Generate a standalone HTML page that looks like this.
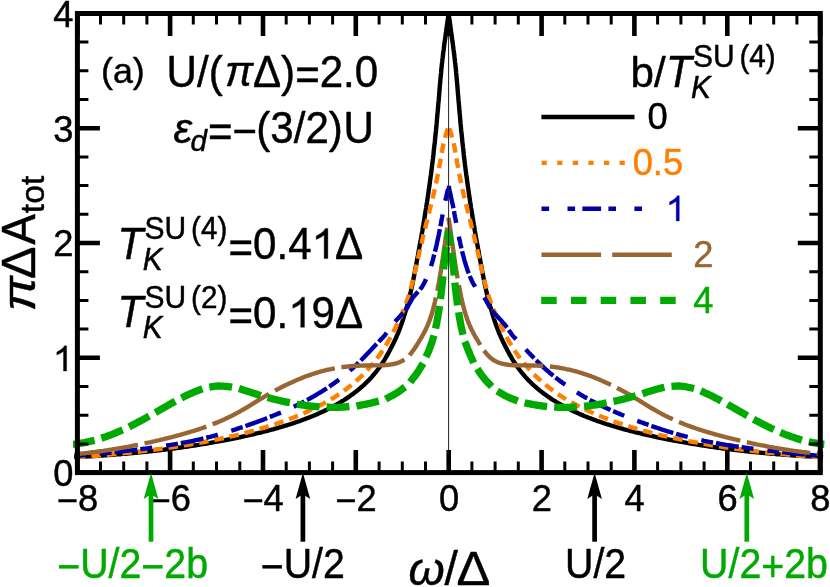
<!DOCTYPE html>
<html><head><meta charset="utf-8"><title>chart</title>
<style>
html,body{margin:0;padding:0;background:#fff;}
svg{display:block;will-change:transform;font-family:"Liberation Sans",sans-serif;}
text{font-family:"Liberation Sans",sans-serif;stroke:#000;stroke-width:0.45px;stroke-linejoin:round;}
.i{font-style:italic;}
</style></head><body>
<svg width="830" height="587" viewBox="0 0 830 587">
<rect width="830" height="587" fill="#fff"/>
<defs><clipPath id="cp"><rect x="73" y="11" width="751.6" height="466"/></clipPath></defs>
<g fill="none" clip-path="url(#cp)" stroke-linejoin="bevel" stroke-linecap="square">
<path d="M76.3 457.0 L77.9 456.9 L79.5 456.9 L81.1 456.8 L82.7 456.7 L84.3 456.6 L85.8 456.5 L87.4 456.4 L89.0 456.3 L90.6 456.2 L92.1 456.2 L93.7 456.1 L95.3 456.0 L96.8 455.9 L98.4 455.8 L99.9 455.7 L101.5 455.6 L103.0 455.5 L104.6 455.3 L106.1 455.2 L107.7 455.1 L109.2 455.0 L110.7 454.9 L112.3 454.8 L113.8 454.7 L115.3 454.6 L116.8 454.4 L118.4 454.3 L119.9 454.2 L121.4 454.1 L122.9 453.9 L124.4 453.8 L125.9 453.7 L127.4 453.5 L128.9 453.4 L130.4 453.3 L131.9 453.1 L133.4 453.0 L134.9 452.9 L136.3 452.7 L137.8 452.6 L139.3 452.4 L140.8 452.3 L142.2 452.1 L143.7 452.0 L145.2 451.8 L146.6 451.7 L148.1 451.5 L149.5 451.4 L151.0 451.2 L152.4 451.1 L153.9 450.9 L155.3 450.7 L156.7 450.6 L158.2 450.4 L159.6 450.2 L161.0 450.1 L162.5 449.9 L163.9 449.7 L165.3 449.5 L166.7 449.4 L168.1 449.2 L169.5 449.0 L170.9 448.8 L172.3 448.6 L173.7 448.5 L175.1 448.3 L176.5 448.1 L177.9 447.9 L179.3 447.7 L180.7 447.5 L182.1 447.3 L183.4 447.1 L184.8 446.9 L186.2 446.7 L187.6 446.5 L188.9 446.3 L190.3 446.1 L191.6 445.9 L193.0 445.7 L194.3 445.5 L195.7 445.3 L197.0 445.1 L198.4 444.9 L199.7 444.6 L201.1 444.4 L202.4 444.2 L203.7 444.0 L205.0 443.8 L206.4 443.5 L207.7 443.3 L209.0 443.1 L210.3 442.9 L211.6 442.6 L212.9 442.4 L214.2 442.2 L215.5 441.9 L216.8 441.7 L218.1 441.5 L219.4 441.2 L220.7 441.0 L222.0 440.8 L223.3 440.5 L224.6 440.3 L225.8 440.0 L227.1 439.8 L228.4 439.5 L229.6 439.3 L230.9 439.0 L232.1 438.8 L233.4 438.5 L234.7 438.3 L235.9 438.0 L237.2 437.8 L238.4 437.5 L239.6 437.3 L240.9 437.0 L242.1 436.7 L243.3 436.5 L244.6 436.2 L245.8 435.9 L247.0 435.7 L248.2 435.4 L249.4 435.1 L250.6 434.8 L251.8 434.6 L253.0 434.3 L254.2 434.0 L255.4 433.7 L256.6 433.4 L257.8 433.2 L259.0 432.9 L260.2 432.6 L261.4 432.3 L262.6 432.0 L263.7 431.7 L264.9 431.4 L266.1 431.1 L267.2 430.8 L268.4 430.5 L269.5 430.2 L270.7 429.9 L271.8 429.6 L273.0 429.3 L274.1 429.0 L275.3 428.7 L276.4 428.3 L277.5 428.0 L278.7 427.7 L279.8 427.4 L280.9 427.0 L282.0 426.7 L283.2 426.4 L284.3 426.0 L285.4 425.7 L286.5 425.4 L287.6 425.0 L288.7 424.7 L289.8 424.3 L290.9 424.0 L292.0 423.6 L293.1 423.3 L294.2 422.9 L295.2 422.5 L296.3 422.2 L297.4 421.8 L298.5 421.4 L299.5 421.1 L300.6 420.7 L301.6 420.3 L302.7 419.9 L303.7 419.5 L304.8 419.1 L305.8 418.7 L306.9 418.4 L307.9 417.9 L309.0 417.5 L310.0 417.1 L311.0 416.7 L312.1 416.3 L313.1 415.9 L314.1 415.5 L315.1 415.0 L316.1 414.6 L317.1 414.2 L318.1 413.7 L319.1 413.3 L320.1 412.8 L321.1 412.4 L322.1 411.9 L323.1 411.5 L324.1 411.0 L325.1 410.5 L326.1 410.1 L327.0 409.6 L328.0 409.1 L329.0 408.6 L329.9 408.1 L330.9 407.6 L331.8 407.1 L332.8 406.6 L333.8 406.1 L334.7 405.6 L335.6 405.0 L336.6 404.5 L337.5 404.0 L338.4 403.4 L339.4 402.9 L340.3 402.3 L341.2 401.8 L342.1 401.2 L343.1 400.6 L344.0 400.1 L344.9 399.5 L345.8 398.9 L346.7 398.3 L347.6 397.7 L348.5 397.1 L349.4 396.5 L350.3 395.8 L351.1 395.2 L352.0 394.6 L352.9 393.9 L353.8 393.3 L354.6 392.6 L355.5 392.0 L356.4 391.3 L357.2 390.6 L358.1 389.9 L358.9 389.2 L359.8 388.5 L360.6 387.8 L361.5 387.1 L362.3 386.3 L363.1 385.6 L364.0 384.8 L364.8 384.1 L365.6 383.3 L366.4 382.5 L367.2 381.7 L368.1 380.9 L368.9 380.0 L369.7 379.2 L370.5 378.3 L371.3 377.5 L372.1 376.6 L372.8 375.7 L373.6 374.8 L374.4 373.8 L375.2 372.9 L376.0 371.9 L376.7 371.0 L377.5 370.0 L378.3 369.0 L379.0 367.9 L379.8 366.9 L380.5 365.8 L381.3 364.7 L382.0 363.6 L382.8 362.5 L383.5 361.3 L384.3 360.2 L385.0 359.0 L385.7 357.7 L386.4 356.5 L387.2 355.2 L387.9 353.9 L388.6 352.6 L389.3 351.3 L390.0 350.0 L390.7 348.6 L391.4 347.2 L392.1 345.9 L392.8 344.5 L393.5 343.1 L394.2 341.7 L394.8 340.3 L395.5 338.9 L396.2 337.4 L396.8 335.9 L397.5 334.4 L398.2 332.8 L398.8 331.2 L399.5 329.5 L400.1 327.8 L400.8 326.0 L401.4 324.2 L402.0 322.4 L402.7 320.5 L403.3 318.6 L403.9 316.6 L404.6 314.6 L405.2 312.6 L405.8 310.5 L406.4 308.4 L407.0 306.3 L407.6 304.1 L408.2 301.9 L408.8 299.7 L409.4 297.4 L410.0 295.0 L410.6 292.6 L411.1 290.1 L411.7 287.5 L412.3 284.8 L412.8 282.1 L413.4 279.2 L414.0 276.3 L414.5 273.4 L415.1 270.6 L415.6 267.7 L416.2 264.8 L416.7 261.9 L417.2 259.1 L417.8 256.2 L418.3 253.3 L418.8 250.5 L419.3 247.6 L419.8 244.8 L420.4 242.0 L420.9 239.1 L421.4 236.3 L421.9 233.4 L422.4 230.6 L422.8 227.7 L423.3 224.9 L423.8 222.0 L424.3 219.1 L424.8 216.2 L425.2 213.3 L425.7 210.4 L426.2 207.5 L426.6 204.6 L427.1 201.6 L427.5 198.7 L428.0 195.7 L428.4 192.7 L428.8 189.7 L429.3 186.7 L429.7 183.6 L430.1 180.5 L430.5 177.4 L431.0 174.3 L431.4 171.1 L431.8 167.9 L432.2 164.7 L432.6 161.4 L433.0 158.2 L433.4 154.8 L433.7 151.5 L434.1 148.1 L434.5 144.6 L434.9 141.2 L435.2 137.7 L435.6 134.1 L436.0 130.5 L436.3 126.9 L436.7 123.2 L437.0 119.4 L437.3 115.6 L437.7 111.8 L438.0 108.0 L438.3 104.1 L438.7 100.2 L439.0 96.4 L439.3 92.7 L439.6 89.0 L439.9 85.4 L440.2 82.0 L440.5 78.6 L440.8 75.5 L441.1 72.5 L441.3 69.6 L441.6 66.9 L441.9 64.3 L442.2 61.8 L442.4 59.5 L442.7 57.3 L442.9 55.2 L443.2 53.2 L443.4 51.3 L443.7 49.5 L443.9 47.7 L444.1 46.0 L444.3 44.4 L444.5 42.8 L444.8 41.3 L445.0 39.8 L445.2 38.4 L445.4 37.0 L445.6 35.6 L445.7 34.3 L445.9 32.9 L446.1 31.7 L446.3 30.4 L446.4 29.2 L446.6 28.1 L446.7 27.0 L446.9 25.9 L447.0 24.8 L447.2 23.8 L447.3 22.9 L447.4 22.0 L447.6 21.1 L447.7 20.3 L447.8 19.5 L447.9 18.7 L448.0 18.0 L448.1 17.4 L448.2 16.8 L448.2 16.2 L448.3 15.7 L448.4 15.2 L448.4 14.8 L448.5 14.4 L448.5 14.1 L448.5 13.9 L448.6 13.7 L448.6 13.6 L448.6 13.5 L448.6 13.6 L448.6 13.7 L448.7 13.9 L448.7 14.1 L448.7 14.4 L448.8 14.8 L448.8 15.2 L448.9 15.7 L449.0 16.2 L449.0 16.8 L449.1 17.4 L449.2 18.0 L449.3 18.7 L449.4 19.5 L449.5 20.3 L449.6 21.1 L449.8 22.0 L449.9 22.9 L450.0 23.8 L450.2 24.8 L450.3 25.9 L450.5 27.0 L450.6 28.1 L450.8 29.2 L450.9 30.4 L451.1 31.7 L451.3 32.9 L451.5 34.3 L451.6 35.6 L451.8 37.0 L452.0 38.4 L452.2 39.8 L452.4 41.3 L452.7 42.8 L452.9 44.4 L453.1 46.0 L453.3 47.7 L453.5 49.5 L453.8 51.3 L454.0 53.2 L454.3 55.2 L454.5 57.3 L454.8 59.5 L455.0 61.8 L455.3 64.3 L455.6 66.9 L455.9 69.6 L456.1 72.5 L456.4 75.5 L456.7 78.6 L457.0 82.0 L457.3 85.4 L457.6 89.0 L457.9 92.7 L458.2 96.4 L458.5 100.2 L458.9 104.1 L459.2 108.0 L459.5 111.8 L459.9 115.6 L460.2 119.4 L460.5 123.2 L460.9 126.9 L461.2 130.5 L461.6 134.1 L462.0 137.7 L462.3 141.2 L462.7 144.6 L463.1 148.1 L463.5 151.5 L463.8 154.8 L464.2 158.2 L464.6 161.4 L465.0 164.7 L465.4 167.9 L465.8 171.1 L466.2 174.3 L466.7 177.4 L467.1 180.5 L467.5 183.6 L467.9 186.7 L468.4 189.7 L468.8 192.7 L469.2 195.7 L469.7 198.7 L470.1 201.6 L470.6 204.6 L471.0 207.5 L471.5 210.4 L472.0 213.3 L472.4 216.2 L472.9 219.1 L473.4 222.0 L473.9 224.9 L474.4 227.7 L474.8 230.6 L475.3 233.4 L475.8 236.3 L476.3 239.1 L476.8 242.0 L477.4 244.8 L477.9 247.6 L478.4 250.5 L478.9 253.3 L479.4 256.2 L480.0 259.1 L480.5 261.9 L481.0 264.8 L481.6 267.7 L482.1 270.6 L482.7 273.4 L483.2 276.3 L483.8 279.2 L484.4 282.1 L484.9 284.8 L485.5 287.5 L486.1 290.1 L486.6 292.6 L487.2 295.0 L487.8 297.4 L488.4 299.7 L489.0 301.9 L489.6 304.1 L490.2 306.3 L490.8 308.4 L491.4 310.5 L492.0 312.6 L492.6 314.6 L493.3 316.6 L493.9 318.6 L494.5 320.5 L495.2 322.4 L495.8 324.2 L496.4 326.0 L497.1 327.8 L497.7 329.5 L498.4 331.2 L499.0 332.8 L499.7 334.4 L500.4 335.9 L501.0 337.4 L501.7 338.9 L502.4 340.3 L503.0 341.7 L503.7 343.1 L504.4 344.5 L505.1 345.9 L505.8 347.2 L506.5 348.6 L507.2 350.0 L507.9 351.3 L508.6 352.6 L509.3 353.9 L510.0 355.2 L510.8 356.5 L511.5 357.7 L512.2 359.0 L512.9 360.2 L513.7 361.3 L514.4 362.5 L515.2 363.6 L515.9 364.7 L516.7 365.8 L517.4 366.9 L518.2 367.9 L518.9 369.0 L519.7 370.0 L520.5 371.0 L521.2 371.9 L522.0 372.9 L522.8 373.8 L523.6 374.8 L524.4 375.7 L525.1 376.6 L525.9 377.5 L526.7 378.3 L527.5 379.2 L528.3 380.0 L529.1 380.9 L530.0 381.7 L530.8 382.5 L531.6 383.3 L532.4 384.1 L533.2 384.8 L534.1 385.6 L534.9 386.3 L535.7 387.1 L536.6 387.8 L537.4 388.5 L538.3 389.2 L539.1 389.9 L540.0 390.6 L540.8 391.3 L541.7 392.0 L542.6 392.6 L543.4 393.3 L544.3 393.9 L545.2 394.6 L546.1 395.2 L546.9 395.8 L547.8 396.5 L548.7 397.1 L549.6 397.7 L550.5 398.3 L551.4 398.9 L552.3 399.5 L553.2 400.1 L554.1 400.6 L555.1 401.2 L556.0 401.8 L556.9 402.3 L557.8 402.9 L558.8 403.4 L559.7 404.0 L560.6 404.5 L561.6 405.0 L562.5 405.6 L563.4 406.1 L564.4 406.6 L565.4 407.1 L566.3 407.6 L567.3 408.1 L568.2 408.6 L569.2 409.1 L570.2 409.6 L571.1 410.1 L572.1 410.5 L573.1 411.0 L574.1 411.5 L575.1 411.9 L576.1 412.4 L577.1 412.8 L578.1 413.3 L579.1 413.7 L580.1 414.2 L581.1 414.6 L582.1 415.0 L583.1 415.5 L584.1 415.9 L585.1 416.3 L586.2 416.7 L587.2 417.1 L588.2 417.5 L589.3 417.9 L590.3 418.4 L591.4 418.7 L592.4 419.1 L593.5 419.5 L594.5 419.9 L595.6 420.3 L596.6 420.7 L597.7 421.1 L598.7 421.4 L599.8 421.8 L600.9 422.2 L602.0 422.5 L603.0 422.9 L604.1 423.3 L605.2 423.6 L606.3 424.0 L607.4 424.3 L608.5 424.7 L609.6 425.0 L610.7 425.4 L611.8 425.7 L612.9 426.0 L614.0 426.4 L615.2 426.7 L616.3 427.0 L617.4 427.4 L618.5 427.7 L619.7 428.0 L620.8 428.3 L621.9 428.7 L623.1 429.0 L624.2 429.3 L625.4 429.6 L626.5 429.9 L627.7 430.2 L628.8 430.5 L630.0 430.8 L631.1 431.1 L632.3 431.4 L633.5 431.7 L634.6 432.0 L635.8 432.3 L637.0 432.6 L638.2 432.9 L639.4 433.2 L640.6 433.4 L641.8 433.7 L643.0 434.0 L644.2 434.3 L645.4 434.6 L646.6 434.8 L647.8 435.1 L649.0 435.4 L650.2 435.7 L651.4 435.9 L652.6 436.2 L653.9 436.5 L655.1 436.7 L656.3 437.0 L657.6 437.3 L658.8 437.5 L660.0 437.8 L661.3 438.0 L662.5 438.3 L663.8 438.5 L665.1 438.8 L666.3 439.0 L667.6 439.3 L668.8 439.5 L670.1 439.8 L671.4 440.0 L672.6 440.3 L673.9 440.5 L675.2 440.8 L676.5 441.0 L677.8 441.2 L679.1 441.5 L680.4 441.7 L681.7 441.9 L683.0 442.2 L684.3 442.4 L685.6 442.6 L686.9 442.9 L688.2 443.1 L689.5 443.3 L690.8 443.5 L692.2 443.8 L693.5 444.0 L694.8 444.2 L696.1 444.4 L697.5 444.6 L698.8 444.9 L700.2 445.1 L701.5 445.3 L702.9 445.5 L704.2 445.7 L705.6 445.9 L706.9 446.1 L708.3 446.3 L709.6 446.5 L711.0 446.7 L712.4 446.9 L713.8 447.1 L715.1 447.3 L716.5 447.5 L717.9 447.7 L719.3 447.9 L720.7 448.1 L722.1 448.3 L723.5 448.5 L724.9 448.6 L726.3 448.8 L727.7 449.0 L729.1 449.2 L730.5 449.4 L731.9 449.5 L733.3 449.7 L734.7 449.9 L736.2 450.1 L737.6 450.2 L739.0 450.4 L740.5 450.6 L741.9 450.7 L743.3 450.9 L744.8 451.1 L746.2 451.2 L747.7 451.4 L749.1 451.5 L750.6 451.7 L752.0 451.8 L753.5 452.0 L755.0 452.1 L756.4 452.3 L757.9 452.4 L759.4 452.6 L760.9 452.7 L762.3 452.9 L763.8 453.0 L765.3 453.1 L766.8 453.3 L768.3 453.4 L769.8 453.5 L771.3 453.7 L772.8 453.8 L774.3 453.9 L775.8 454.1 L777.3 454.2 L778.8 454.3 L780.4 454.4 L781.9 454.6 L783.4 454.7 L784.9 454.8 L786.5 454.9 L788.0 455.0 L789.5 455.1 L791.1 455.2 L792.6 455.3 L794.2 455.5 L795.7 455.6 L797.3 455.7 L798.8 455.8 L800.4 455.9 L801.9 456.0 L803.5 456.1 L805.1 456.2 L806.6 456.2 L808.2 456.3 L809.8 456.4 L811.4 456.5 L812.9 456.6 L814.5 456.7 L816.1 456.8 L817.7 456.9 L819.3 456.9 L820.9 457.0" stroke="#000" stroke-width="4.4"/>
<path d="M76.3 457.3 L77.9 457.2 L79.5 457.1 L81.1 456.9 L82.7 456.8 L84.3 456.7 L85.8 456.6 L87.4 456.5 L89.0 456.3 L90.6 456.2 L92.1 456.1 L93.7 455.9 L95.3 455.8 L96.8 455.7 L98.4 455.5 L99.9 455.4 L101.5 455.3 L103.0 455.1 L104.6 455.0 L106.1 454.9 L107.7 454.7 L109.2 454.6 L110.7 454.4 L112.3 454.3 L113.8 454.1 L115.3 454.0 L116.8 453.9 L118.4 453.7 L119.9 453.6 L121.4 453.4 L122.9 453.2 L124.4 453.1 L125.9 452.9 L127.4 452.8 L128.9 452.6 L130.4 452.5 L131.9 452.3 L133.4 452.1 L134.9 452.0 L136.3 451.8 L137.8 451.6 L139.3 451.5 L140.8 451.3 L142.2 451.1 L143.7 451.0 L145.2 450.8 L146.6 450.6 L148.1 450.4 L149.5 450.2 L151.0 450.1 L152.4 449.9 L153.9 449.7 L155.3 449.5 L156.7 449.3 L158.2 449.1 L159.6 449.0 L161.0 448.8 L162.5 448.6 L163.9 448.4 L165.3 448.2 L166.7 448.0 L168.1 447.8 L169.5 447.6 L170.9 447.4 L172.3 447.2 L173.7 447.0 L175.1 446.8 L176.5 446.6 L177.9 446.3 L179.3 446.1 L180.7 445.9 L182.1 445.7 L183.4 445.5 L184.8 445.3 L186.2 445.1 L187.6 444.8 L188.9 444.6 L190.3 444.4 L191.6 444.2 L193.0 443.9 L194.3 443.7 L195.7 443.5 L197.0 443.2 L198.4 443.0 L199.7 442.7 L201.1 442.5 L202.4 442.3 L203.7 442.0 L205.0 441.8 L206.4 441.5 L207.7 441.3 L209.0 441.0 L210.3 440.8 L211.6 440.5 L212.9 440.3 L214.2 440.0 L215.5 439.7 L216.8 439.5 L218.1 439.2 L219.4 438.9 L220.7 438.7 L222.0 438.4 L223.3 438.1 L224.6 437.8 L225.8 437.6 L227.1 437.3 L228.4 437.0 L229.6 436.7 L230.9 436.4 L232.1 436.1 L233.4 435.9 L234.7 435.6 L235.9 435.3 L237.2 435.0 L238.4 434.7 L239.6 434.4 L240.9 434.1 L242.1 433.8 L243.3 433.4 L244.6 433.1 L245.8 432.8 L247.0 432.5 L248.2 432.2 L249.4 431.9 L250.6 431.5 L251.8 431.2 L253.0 430.9 L254.2 430.6 L255.4 430.2 L256.6 429.9 L257.8 429.5 L259.0 429.2 L260.2 428.9 L261.4 428.5 L262.6 428.2 L263.7 427.8 L264.9 427.5 L266.1 427.1 L267.2 426.7 L268.4 426.4 L269.5 426.0 L270.7 425.6 L271.8 425.3 L273.0 424.9 L274.1 424.5 L275.3 424.2 L276.4 423.8 L277.5 423.4 L278.7 423.0 L279.8 422.6 L280.9 422.2 L282.0 421.8 L283.2 421.4 L284.3 421.0 L285.4 420.6 L286.5 420.2 L287.6 419.8 L288.7 419.4 L289.8 419.0 L290.9 418.5 L292.0 418.1 L293.1 417.7 L294.2 417.3 L295.2 416.8 L296.3 416.4 L297.4 415.9 L298.5 415.5 L299.5 415.1 L300.6 414.6 L301.6 414.1 L302.7 413.7 L303.7 413.2 L304.8 412.8 L305.8 412.3 L306.9 411.8 L307.9 411.4 L309.0 410.9 L310.0 410.4 L311.0 409.9 L312.1 409.4 L313.1 408.9 L314.1 408.4 L315.1 407.9 L316.1 407.4 L317.1 406.9 L318.1 406.4 L319.1 405.9 L320.1 405.4 L321.1 404.8 L322.1 404.3 L323.1 403.8 L324.1 403.2 L325.1 402.7 L326.1 402.1 L327.0 401.6 L328.0 401.0 L329.0 400.5 L329.9 399.9 L330.9 399.3 L331.8 398.8 L332.8 398.2 L333.8 397.6 L334.7 397.0 L335.6 396.4 L336.6 395.8 L337.5 395.2 L338.4 394.5 L339.4 393.9 L340.3 393.3 L341.2 392.7 L342.1 392.0 L343.1 391.4 L344.0 390.7 L344.9 390.1 L345.8 389.4 L346.7 388.7 L347.6 388.0 L348.5 387.3 L349.4 386.7 L350.3 385.9 L351.1 385.2 L352.0 384.5 L352.9 383.8 L353.8 383.1 L354.6 382.3 L355.5 381.6 L356.4 380.8 L357.2 380.0 L358.1 379.3 L358.9 378.5 L359.8 377.7 L360.6 376.9 L361.5 376.1 L362.3 375.3 L363.1 374.4 L364.0 373.6 L364.8 372.8 L365.6 371.9 L366.4 371.0 L367.2 370.2 L368.1 369.3 L368.9 368.4 L369.7 367.5 L370.5 366.5 L371.3 365.6 L372.1 364.7 L372.8 363.7 L373.6 362.8 L374.4 361.8 L375.2 360.8 L376.0 359.8 L376.7 358.8 L377.5 357.8 L378.3 356.7 L379.0 355.7 L379.8 354.6 L380.5 353.5 L381.3 352.4 L382.0 351.3 L382.8 350.2 L383.5 349.1 L384.3 347.9 L385.0 346.7 L385.7 345.6 L386.4 344.4 L387.2 343.1 L387.9 341.9 L388.6 340.7 L389.3 339.4 L390.0 338.1 L390.7 336.8 L391.4 335.5 L392.1 334.2 L392.8 332.9 L393.5 331.5 L394.2 330.2 L394.8 328.8 L395.5 327.5 L396.2 326.1 L396.8 324.7 L397.5 323.4 L398.2 322.0 L398.8 320.6 L399.5 319.2 L400.1 317.7 L400.8 316.3 L401.4 314.8 L402.0 313.4 L402.7 311.9 L403.3 310.3 L403.9 308.8 L404.6 307.2 L405.2 305.6 L405.8 303.9 L406.4 302.3 L407.0 300.5 L407.6 298.8 L408.2 297.0 L408.8 295.1 L409.4 293.2 L410.0 291.3 L410.6 289.2 L411.1 287.2 L411.7 285.0 L412.3 282.9 L412.8 280.7 L413.4 278.4 L414.0 276.1 L414.5 273.8 L415.1 271.4 L415.6 269.1 L416.2 266.7 L416.7 264.3 L417.2 262.0 L417.8 259.6 L418.3 257.3 L418.8 255.0 L419.3 252.7 L419.8 250.5 L420.4 248.3 L420.9 246.1 L421.4 244.0 L421.9 241.9 L422.4 239.8 L422.8 237.7 L423.3 235.7 L423.8 233.7 L424.3 231.8 L424.8 229.8 L425.2 227.9 L425.7 226.0 L426.2 224.2 L426.6 222.4 L427.1 220.5 L427.5 218.8 L428.0 217.0 L428.4 215.2 L428.8 213.5 L429.3 211.8 L429.7 210.1 L430.1 208.4 L430.5 206.7 L431.0 205.1 L431.4 203.4 L431.8 201.8 L432.2 200.1 L432.6 198.5 L433.0 196.8 L433.4 195.2 L433.7 193.6 L434.1 191.9 L434.5 190.3 L434.9 188.7 L435.2 187.0 L435.6 185.3 L436.0 183.7 L436.3 182.0 L436.7 180.3 L437.0 178.6 L437.3 176.9 L437.7 175.2 L438.0 173.5 L438.3 171.8 L438.7 170.0 L439.0 168.3 L439.3 166.6 L439.6 164.9 L439.9 163.3 L440.2 161.6 L440.5 159.9 L440.8 158.3 L441.1 156.7 L441.3 155.1 L441.6 153.5 L441.9 152.0 L442.2 150.4 L442.4 149.0 L442.7 147.5 L442.9 146.1 L443.2 144.6 L443.4 143.3 L443.7 142.1 L443.9 141.2 L444.1 140.3 L444.3 139.5 L444.5 138.8 L444.8 138.1 L445.0 137.5 L445.2 136.9 L445.4 136.3 L445.6 135.7 L445.7 135.2 L445.9 134.6 L446.1 134.0 L446.3 133.5 L446.4 132.9 L446.6 132.4 L446.7 131.9 L446.9 131.4 L447.0 130.9 L447.2 130.4 L447.3 130.0 L447.4 129.6 L447.6 129.2 L447.7 128.8 L447.8 128.4 L447.9 128.1 L448.0 127.8 L448.1 127.5 L448.2 127.2 L448.2 126.9 L448.3 126.7 L448.4 126.5 L448.4 126.3 L448.5 126.1 L448.5 126.0 L448.5 125.9 L448.6 125.8 L448.6 125.7 L448.6 125.7 L448.6 125.7 L448.6 125.8 L448.7 125.9 L448.7 126.0 L448.7 126.1 L448.8 126.3 L448.8 126.5 L448.9 126.7 L449.0 126.9 L449.0 127.2 L449.1 127.5 L449.2 127.8 L449.3 128.1 L449.4 128.4 L449.5 128.8 L449.6 129.2 L449.8 129.6 L449.9 130.0 L450.0 130.4 L450.2 130.9 L450.3 131.4 L450.5 131.9 L450.6 132.4 L450.8 132.9 L450.9 133.5 L451.1 134.0 L451.3 134.6 L451.5 135.2 L451.6 135.7 L451.8 136.3 L452.0 136.9 L452.2 137.5 L452.4 138.1 L452.7 138.8 L452.9 139.5 L453.1 140.3 L453.3 141.2 L453.5 142.1 L453.8 143.3 L454.0 144.6 L454.3 146.1 L454.5 147.5 L454.8 149.0 L455.0 150.4 L455.3 152.0 L455.6 153.5 L455.9 155.1 L456.1 156.7 L456.4 158.3 L456.7 159.9 L457.0 161.6 L457.3 163.3 L457.6 164.9 L457.9 166.6 L458.2 168.3 L458.5 170.0 L458.9 171.8 L459.2 173.5 L459.5 175.2 L459.9 176.9 L460.2 178.6 L460.5 180.3 L460.9 182.0 L461.2 183.7 L461.6 185.3 L462.0 187.0 L462.3 188.7 L462.7 190.3 L463.1 191.9 L463.5 193.6 L463.8 195.2 L464.2 196.8 L464.6 198.5 L465.0 200.1 L465.4 201.8 L465.8 203.4 L466.2 205.1 L466.7 206.7 L467.1 208.4 L467.5 210.1 L467.9 211.8 L468.4 213.5 L468.8 215.2 L469.2 217.0 L469.7 218.8 L470.1 220.5 L470.6 222.4 L471.0 224.2 L471.5 226.0 L472.0 227.9 L472.4 229.8 L472.9 231.8 L473.4 233.7 L473.9 235.7 L474.4 237.7 L474.8 239.8 L475.3 241.9 L475.8 244.0 L476.3 246.1 L476.8 248.3 L477.4 250.5 L477.9 252.7 L478.4 255.0 L478.9 257.3 L479.4 259.6 L480.0 262.0 L480.5 264.3 L481.0 266.7 L481.6 269.1 L482.1 271.4 L482.7 273.8 L483.2 276.1 L483.8 278.4 L484.4 280.7 L484.9 282.9 L485.5 285.0 L486.1 287.2 L486.6 289.2 L487.2 291.3 L487.8 293.2 L488.4 295.1 L489.0 297.0 L489.6 298.8 L490.2 300.5 L490.8 302.3 L491.4 303.9 L492.0 305.6 L492.6 307.2 L493.3 308.8 L493.9 310.3 L494.5 311.9 L495.2 313.4 L495.8 314.8 L496.4 316.3 L497.1 317.7 L497.7 319.2 L498.4 320.6 L499.0 322.0 L499.7 323.4 L500.4 324.7 L501.0 326.1 L501.7 327.5 L502.4 328.8 L503.0 330.2 L503.7 331.5 L504.4 332.9 L505.1 334.2 L505.8 335.5 L506.5 336.8 L507.2 338.1 L507.9 339.4 L508.6 340.7 L509.3 341.9 L510.0 343.1 L510.8 344.4 L511.5 345.6 L512.2 346.7 L512.9 347.9 L513.7 349.1 L514.4 350.2 L515.2 351.3 L515.9 352.4 L516.7 353.5 L517.4 354.6 L518.2 355.7 L518.9 356.7 L519.7 357.8 L520.5 358.8 L521.2 359.8 L522.0 360.8 L522.8 361.8 L523.6 362.8 L524.4 363.7 L525.1 364.7 L525.9 365.6 L526.7 366.5 L527.5 367.5 L528.3 368.4 L529.1 369.3 L530.0 370.2 L530.8 371.0 L531.6 371.9 L532.4 372.8 L533.2 373.6 L534.1 374.4 L534.9 375.3 L535.7 376.1 L536.6 376.9 L537.4 377.7 L538.3 378.5 L539.1 379.3 L540.0 380.0 L540.8 380.8 L541.7 381.6 L542.6 382.3 L543.4 383.1 L544.3 383.8 L545.2 384.5 L546.1 385.2 L546.9 385.9 L547.8 386.7 L548.7 387.3 L549.6 388.0 L550.5 388.7 L551.4 389.4 L552.3 390.1 L553.2 390.7 L554.1 391.4 L555.1 392.0 L556.0 392.7 L556.9 393.3 L557.8 393.9 L558.8 394.5 L559.7 395.2 L560.6 395.8 L561.6 396.4 L562.5 397.0 L563.4 397.6 L564.4 398.2 L565.4 398.8 L566.3 399.3 L567.3 399.9 L568.2 400.5 L569.2 401.0 L570.2 401.6 L571.1 402.1 L572.1 402.7 L573.1 403.2 L574.1 403.8 L575.1 404.3 L576.1 404.8 L577.1 405.4 L578.1 405.9 L579.1 406.4 L580.1 406.9 L581.1 407.4 L582.1 407.9 L583.1 408.4 L584.1 408.9 L585.1 409.4 L586.2 409.9 L587.2 410.4 L588.2 410.9 L589.3 411.4 L590.3 411.8 L591.4 412.3 L592.4 412.8 L593.5 413.2 L594.5 413.7 L595.6 414.1 L596.6 414.6 L597.7 415.1 L598.7 415.5 L599.8 415.9 L600.9 416.4 L602.0 416.8 L603.0 417.3 L604.1 417.7 L605.2 418.1 L606.3 418.5 L607.4 419.0 L608.5 419.4 L609.6 419.8 L610.7 420.2 L611.8 420.6 L612.9 421.0 L614.0 421.4 L615.2 421.8 L616.3 422.2 L617.4 422.6 L618.5 423.0 L619.7 423.4 L620.8 423.8 L621.9 424.2 L623.1 424.5 L624.2 424.9 L625.4 425.3 L626.5 425.6 L627.7 426.0 L628.8 426.4 L630.0 426.7 L631.1 427.1 L632.3 427.5 L633.5 427.8 L634.6 428.2 L635.8 428.5 L637.0 428.9 L638.2 429.2 L639.4 429.5 L640.6 429.9 L641.8 430.2 L643.0 430.6 L644.2 430.9 L645.4 431.2 L646.6 431.5 L647.8 431.9 L649.0 432.2 L650.2 432.5 L651.4 432.8 L652.6 433.1 L653.9 433.4 L655.1 433.8 L656.3 434.1 L657.6 434.4 L658.8 434.7 L660.0 435.0 L661.3 435.3 L662.5 435.6 L663.8 435.9 L665.1 436.1 L666.3 436.4 L667.6 436.7 L668.8 437.0 L670.1 437.3 L671.4 437.6 L672.6 437.8 L673.9 438.1 L675.2 438.4 L676.5 438.7 L677.8 438.9 L679.1 439.2 L680.4 439.5 L681.7 439.7 L683.0 440.0 L684.3 440.3 L685.6 440.5 L686.9 440.8 L688.2 441.0 L689.5 441.3 L690.8 441.5 L692.2 441.8 L693.5 442.0 L694.8 442.3 L696.1 442.5 L697.5 442.7 L698.8 443.0 L700.2 443.2 L701.5 443.5 L702.9 443.7 L704.2 443.9 L705.6 444.2 L706.9 444.4 L708.3 444.6 L709.6 444.8 L711.0 445.1 L712.4 445.3 L713.8 445.5 L715.1 445.7 L716.5 445.9 L717.9 446.1 L719.3 446.3 L720.7 446.6 L722.1 446.8 L723.5 447.0 L724.9 447.2 L726.3 447.4 L727.7 447.6 L729.1 447.8 L730.5 448.0 L731.9 448.2 L733.3 448.4 L734.7 448.6 L736.2 448.8 L737.6 449.0 L739.0 449.1 L740.5 449.3 L741.9 449.5 L743.3 449.7 L744.8 449.9 L746.2 450.1 L747.7 450.2 L749.1 450.4 L750.6 450.6 L752.0 450.8 L753.5 451.0 L755.0 451.1 L756.4 451.3 L757.9 451.5 L759.4 451.6 L760.9 451.8 L762.3 452.0 L763.8 452.1 L765.3 452.3 L766.8 452.5 L768.3 452.6 L769.8 452.8 L771.3 452.9 L772.8 453.1 L774.3 453.2 L775.8 453.4 L777.3 453.6 L778.8 453.7 L780.4 453.9 L781.9 454.0 L783.4 454.1 L784.9 454.3 L786.5 454.4 L788.0 454.6 L789.5 454.7 L791.1 454.9 L792.6 455.0 L794.2 455.1 L795.7 455.3 L797.3 455.4 L798.8 455.5 L800.4 455.7 L801.9 455.8 L803.5 455.9 L805.1 456.1 L806.6 456.2 L808.2 456.3 L809.8 456.5 L811.4 456.6 L812.9 456.7 L814.5 456.8 L816.1 456.9 L817.7 457.1 L819.3 457.2 L820.9 457.3" stroke="#ff8000" stroke-width="4.4" stroke-dasharray="5.172 10.343" stroke-dashoffset="13.66"/>
<path d="M76.3 456.0 L77.9 455.9 L79.5 455.7 L81.1 455.6 L82.7 455.4 L84.3 455.2 L85.8 455.1 L87.4 454.9 L89.0 454.8 L90.6 454.6 L92.1 454.5 L93.7 454.3 L95.3 454.2 L96.8 454.0 L98.4 453.8 L99.9 453.7 L101.5 453.5 L103.0 453.4 L104.6 453.2 L106.1 453.1 L107.7 452.9 L109.2 452.7 L110.7 452.6 L112.3 452.4 L113.8 452.3 L115.3 452.1 L116.8 451.9 L118.4 451.8 L119.9 451.6 L121.4 451.4 L122.9 451.3 L124.4 451.1 L125.9 450.9 L127.4 450.8 L128.9 450.6 L130.4 450.4 L131.9 450.2 L133.4 450.1 L134.9 449.9 L136.3 449.7 L137.8 449.5 L139.3 449.3 L140.8 449.2 L142.2 449.0 L143.7 448.8 L145.2 448.6 L146.6 448.4 L148.1 448.2 L149.5 448.0 L151.0 447.8 L152.4 447.6 L153.9 447.4 L155.3 447.2 L156.7 447.0 L158.2 446.8 L159.6 446.6 L161.0 446.4 L162.5 446.2 L163.9 446.0 L165.3 445.8 L166.7 445.5 L168.1 445.3 L169.5 445.1 L170.9 444.9 L172.3 444.6 L173.7 444.4 L175.1 444.2 L176.5 443.9 L177.9 443.7 L179.3 443.4 L180.7 443.2 L182.1 442.9 L183.4 442.7 L184.8 442.4 L186.2 442.2 L187.6 441.9 L188.9 441.6 L190.3 441.4 L191.6 441.1 L193.0 440.8 L194.3 440.5 L195.7 440.2 L197.0 439.9 L198.4 439.6 L199.7 439.3 L201.1 439.0 L202.4 438.7 L203.7 438.4 L205.0 438.1 L206.4 437.8 L207.7 437.4 L209.0 437.1 L210.3 436.8 L211.6 436.4 L212.9 436.1 L214.2 435.7 L215.5 435.4 L216.8 435.0 L218.1 434.7 L219.4 434.3 L220.7 433.9 L222.0 433.6 L223.3 433.2 L224.6 432.8 L225.8 432.4 L227.1 432.0 L228.4 431.6 L229.6 431.3 L230.9 430.9 L232.1 430.5 L233.4 430.1 L234.7 429.7 L235.9 429.3 L237.2 428.8 L238.4 428.4 L239.6 428.0 L240.9 427.6 L242.1 427.2 L243.3 426.8 L244.6 426.4 L245.8 425.9 L247.0 425.5 L248.2 425.1 L249.4 424.6 L250.6 424.2 L251.8 423.8 L253.0 423.4 L254.2 422.9 L255.4 422.5 L256.6 422.1 L257.8 421.6 L259.0 421.2 L260.2 420.7 L261.4 420.3 L262.6 419.9 L263.7 419.4 L264.9 419.0 L266.1 418.5 L267.2 418.1 L268.4 417.6 L269.5 417.2 L270.7 416.7 L271.8 416.2 L273.0 415.8 L274.1 415.3 L275.3 414.8 L276.4 414.4 L277.5 413.9 L278.7 413.4 L279.8 413.0 L280.9 412.5 L282.0 412.0 L283.2 411.5 L284.3 411.0 L285.4 410.5 L286.5 410.1 L287.6 409.6 L288.7 409.1 L289.8 408.6 L290.9 408.1 L292.0 407.6 L293.1 407.1 L294.2 406.5 L295.2 406.0 L296.3 405.5 L297.4 405.0 L298.5 404.5 L299.5 403.9 L300.6 403.4 L301.6 402.9 L302.7 402.3 L303.7 401.8 L304.8 401.2 L305.8 400.7 L306.9 400.1 L307.9 399.5 L309.0 399.0 L310.0 398.4 L311.0 397.8 L312.1 397.3 L313.1 396.7 L314.1 396.1 L315.1 395.5 L316.1 394.9 L317.1 394.3 L318.1 393.7 L319.1 393.1 L320.1 392.5 L321.1 391.9 L322.1 391.3 L323.1 390.6 L324.1 390.0 L325.1 389.4 L326.1 388.7 L327.0 388.1 L328.0 387.4 L329.0 386.8 L329.9 386.1 L330.9 385.5 L331.8 384.8 L332.8 384.1 L333.8 383.4 L334.7 382.8 L335.6 382.1 L336.6 381.4 L337.5 380.7 L338.4 380.0 L339.4 379.3 L340.3 378.6 L341.2 377.8 L342.1 377.1 L343.1 376.4 L344.0 375.7 L344.9 374.9 L345.8 374.2 L346.7 373.4 L347.6 372.7 L348.5 371.9 L349.4 371.1 L350.3 370.4 L351.1 369.6 L352.0 368.8 L352.9 368.0 L353.8 367.2 L354.6 366.4 L355.5 365.6 L356.4 364.8 L357.2 364.0 L358.1 363.2 L358.9 362.3 L359.8 361.5 L360.6 360.7 L361.5 359.8 L362.3 359.0 L363.1 358.1 L364.0 357.3 L364.8 356.4 L365.6 355.6 L366.4 354.7 L367.2 353.9 L368.1 353.0 L368.9 352.2 L369.7 351.3 L370.5 350.5 L371.3 349.6 L372.1 348.8 L372.8 347.9 L373.6 347.1 L374.4 346.3 L375.2 345.4 L376.0 344.6 L376.7 343.8 L377.5 343.0 L378.3 342.2 L379.0 341.4 L379.8 340.7 L380.5 339.9 L381.3 339.1 L382.0 338.3 L382.8 337.6 L383.5 336.8 L384.3 336.0 L385.0 335.1 L385.7 334.1 L386.4 333.0 L387.2 331.9 L387.9 330.9 L388.6 329.9 L389.3 328.8 L390.0 327.8 L390.7 326.8 L391.4 325.9 L392.1 325.0 L392.8 324.2 L393.5 323.4 L394.2 322.6 L394.8 321.9 L395.5 321.1 L396.2 320.4 L396.8 319.7 L397.5 319.0 L398.2 318.3 L398.8 317.6 L399.5 316.9 L400.1 316.2 L400.8 315.5 L401.4 314.8 L402.0 314.2 L402.7 313.5 L403.3 312.8 L403.9 312.1 L404.6 311.3 L405.2 310.6 L405.8 309.8 L406.4 308.9 L407.0 308.0 L407.6 307.0 L408.2 305.9 L408.8 304.8 L409.4 303.6 L410.0 302.5 L410.6 301.5 L411.1 300.5 L411.7 299.5 L412.3 298.6 L412.8 297.8 L413.4 297.0 L414.0 296.3 L414.5 295.6 L415.1 295.0 L415.6 294.4 L416.2 293.8 L416.7 293.2 L417.2 292.6 L417.8 292.1 L418.3 291.5 L418.8 290.9 L419.3 290.3 L419.8 289.7 L420.4 289.1 L420.9 288.4 L421.4 287.7 L421.9 287.0 L422.4 286.2 L422.8 285.5 L423.3 284.6 L423.8 283.8 L424.3 282.9 L424.8 282.0 L425.2 281.0 L425.7 280.0 L426.2 279.0 L426.6 278.0 L427.1 276.9 L427.5 275.8 L428.0 274.7 L428.4 273.6 L428.8 272.4 L429.3 271.2 L429.7 270.0 L430.1 268.7 L430.5 267.5 L431.0 266.2 L431.4 264.8 L431.8 263.5 L432.2 262.1 L432.6 260.8 L433.0 259.4 L433.4 257.9 L433.7 256.5 L434.1 255.1 L434.5 253.6 L434.9 252.1 L435.2 250.6 L435.6 249.1 L436.0 247.6 L436.3 246.0 L436.7 244.5 L437.0 243.0 L437.3 241.4 L437.7 239.9 L438.0 238.3 L438.3 236.7 L438.7 235.2 L439.0 233.6 L439.3 232.0 L439.6 230.5 L439.9 228.9 L440.2 227.4 L440.5 225.9 L440.8 224.3 L441.1 222.8 L441.3 221.3 L441.6 219.8 L441.9 218.4 L442.2 216.9 L442.4 215.5 L442.7 214.1 L442.9 212.7 L443.2 211.3 L443.4 210.0 L443.7 208.7 L443.9 207.6 L444.1 206.5 L444.3 205.4 L444.5 204.4 L444.8 203.5 L445.0 202.6 L445.2 201.7 L445.4 200.8 L445.6 199.9 L445.7 199.1 L445.9 198.3 L446.1 197.5 L446.3 196.7 L446.4 195.9 L446.6 195.2 L446.7 194.5 L446.9 193.8 L447.0 193.2 L447.2 192.5 L447.3 191.9 L447.4 191.3 L447.6 190.8 L447.7 190.3 L447.8 189.8 L447.9 189.3 L448.0 188.9 L448.1 188.4 L448.2 188.1 L448.2 187.7 L448.3 187.4 L448.4 187.1 L448.4 186.8 L448.5 186.6 L448.5 186.4 L448.5 186.2 L448.6 186.1 L448.6 186.0 L448.6 186.0 L448.6 186.0 L448.6 186.1 L448.7 186.2 L448.7 186.4 L448.7 186.6 L448.8 186.8 L448.8 187.1 L448.9 187.4 L449.0 187.7 L449.0 188.1 L449.1 188.4 L449.2 188.9 L449.3 189.3 L449.4 189.8 L449.5 190.3 L449.6 190.8 L449.8 191.3 L449.9 191.9 L450.0 192.5 L450.2 193.2 L450.3 193.8 L450.5 194.5 L450.6 195.2 L450.8 195.9 L450.9 196.7 L451.1 197.5 L451.3 198.3 L451.5 199.1 L451.6 199.9 L451.8 200.8 L452.0 201.7 L452.2 202.6 L452.4 203.5 L452.7 204.4 L452.9 205.4 L453.1 206.5 L453.3 207.6 L453.5 208.7 L453.8 210.0 L454.0 211.3 L454.3 212.7 L454.5 214.1 L454.8 215.5 L455.0 216.9 L455.3 218.4 L455.6 219.8 L455.9 221.3 L456.1 222.8 L456.4 224.3 L456.7 225.9 L457.0 227.4 L457.3 228.9 L457.6 230.5 L457.9 232.0 L458.2 233.6 L458.5 235.2 L458.9 236.7 L459.2 238.3 L459.5 239.9 L459.9 241.4 L460.2 243.0 L460.5 244.5 L460.9 246.0 L461.2 247.6 L461.6 249.1 L462.0 250.6 L462.3 252.1 L462.7 253.6 L463.1 255.1 L463.5 256.5 L463.8 257.9 L464.2 259.4 L464.6 260.8 L465.0 262.1 L465.4 263.5 L465.8 264.8 L466.2 266.2 L466.7 267.5 L467.1 268.7 L467.5 270.0 L467.9 271.2 L468.4 272.4 L468.8 273.6 L469.2 274.7 L469.7 275.8 L470.1 276.9 L470.6 278.0 L471.0 279.0 L471.5 280.0 L472.0 281.0 L472.4 282.0 L472.9 282.9 L473.4 283.8 L473.9 284.6 L474.4 285.5 L474.8 286.2 L475.3 287.0 L475.8 287.7 L476.3 288.4 L476.8 289.1 L477.4 289.7 L477.9 290.3 L478.4 290.9 L478.9 291.5 L479.4 292.1 L480.0 292.6 L480.5 293.2 L481.0 293.8 L481.6 294.4 L482.1 295.0 L482.7 295.6 L483.2 296.3 L483.8 297.0 L484.4 297.8 L484.9 298.6 L485.5 299.5 L486.1 300.5 L486.6 301.5 L487.2 302.5 L487.8 303.6 L488.4 304.8 L489.0 305.9 L489.6 307.0 L490.2 308.0 L490.8 308.9 L491.4 309.8 L492.0 310.6 L492.6 311.3 L493.3 312.1 L493.9 312.8 L494.5 313.5 L495.2 314.2 L495.8 314.8 L496.4 315.5 L497.1 316.2 L497.7 316.9 L498.4 317.6 L499.0 318.3 L499.7 319.0 L500.4 319.7 L501.0 320.4 L501.7 321.1 L502.4 321.9 L503.0 322.6 L503.7 323.4 L504.4 324.2 L505.1 325.0 L505.8 325.9 L506.5 326.8 L507.2 327.8 L507.9 328.8 L508.6 329.9 L509.3 330.9 L510.0 331.9 L510.8 333.0 L511.5 334.1 L512.2 335.1 L512.9 336.0 L513.7 336.8 L514.4 337.6 L515.2 338.3 L515.9 339.1 L516.7 339.9 L517.4 340.7 L518.2 341.4 L518.9 342.2 L519.7 343.0 L520.5 343.8 L521.2 344.6 L522.0 345.4 L522.8 346.3 L523.6 347.1 L524.4 347.9 L525.1 348.8 L525.9 349.6 L526.7 350.5 L527.5 351.3 L528.3 352.2 L529.1 353.0 L530.0 353.9 L530.8 354.7 L531.6 355.6 L532.4 356.4 L533.2 357.3 L534.1 358.1 L534.9 359.0 L535.7 359.8 L536.6 360.7 L537.4 361.5 L538.3 362.3 L539.1 363.2 L540.0 364.0 L540.8 364.8 L541.7 365.6 L542.6 366.4 L543.4 367.2 L544.3 368.0 L545.2 368.8 L546.1 369.6 L546.9 370.4 L547.8 371.1 L548.7 371.9 L549.6 372.7 L550.5 373.4 L551.4 374.2 L552.3 374.9 L553.2 375.7 L554.1 376.4 L555.1 377.1 L556.0 377.8 L556.9 378.6 L557.8 379.3 L558.8 380.0 L559.7 380.7 L560.6 381.4 L561.6 382.1 L562.5 382.8 L563.4 383.4 L564.4 384.1 L565.4 384.8 L566.3 385.5 L567.3 386.1 L568.2 386.8 L569.2 387.4 L570.2 388.1 L571.1 388.7 L572.1 389.4 L573.1 390.0 L574.1 390.6 L575.1 391.3 L576.1 391.9 L577.1 392.5 L578.1 393.1 L579.1 393.7 L580.1 394.3 L581.1 394.9 L582.1 395.5 L583.1 396.1 L584.1 396.7 L585.1 397.3 L586.2 397.8 L587.2 398.4 L588.2 399.0 L589.3 399.5 L590.3 400.1 L591.4 400.7 L592.4 401.2 L593.5 401.8 L594.5 402.3 L595.6 402.9 L596.6 403.4 L597.7 403.9 L598.7 404.5 L599.8 405.0 L600.9 405.5 L602.0 406.0 L603.0 406.5 L604.1 407.1 L605.2 407.6 L606.3 408.1 L607.4 408.6 L608.5 409.1 L609.6 409.6 L610.7 410.1 L611.8 410.5 L612.9 411.0 L614.0 411.5 L615.2 412.0 L616.3 412.5 L617.4 413.0 L618.5 413.4 L619.7 413.9 L620.8 414.4 L621.9 414.8 L623.1 415.3 L624.2 415.8 L625.4 416.2 L626.5 416.7 L627.7 417.2 L628.8 417.6 L630.0 418.1 L631.1 418.5 L632.3 419.0 L633.5 419.4 L634.6 419.9 L635.8 420.3 L637.0 420.7 L638.2 421.2 L639.4 421.6 L640.6 422.1 L641.8 422.5 L643.0 422.9 L644.2 423.4 L645.4 423.8 L646.6 424.2 L647.8 424.6 L649.0 425.1 L650.2 425.5 L651.4 425.9 L652.6 426.4 L653.9 426.8 L655.1 427.2 L656.3 427.6 L657.6 428.0 L658.8 428.4 L660.0 428.8 L661.3 429.3 L662.5 429.7 L663.8 430.1 L665.1 430.5 L666.3 430.9 L667.6 431.3 L668.8 431.6 L670.1 432.0 L671.4 432.4 L672.6 432.8 L673.9 433.2 L675.2 433.6 L676.5 433.9 L677.8 434.3 L679.1 434.7 L680.4 435.0 L681.7 435.4 L683.0 435.7 L684.3 436.1 L685.6 436.4 L686.9 436.8 L688.2 437.1 L689.5 437.4 L690.8 437.8 L692.2 438.1 L693.5 438.4 L694.8 438.7 L696.1 439.0 L697.5 439.3 L698.8 439.6 L700.2 439.9 L701.5 440.2 L702.9 440.5 L704.2 440.8 L705.6 441.1 L706.9 441.4 L708.3 441.6 L709.6 441.9 L711.0 442.2 L712.4 442.4 L713.8 442.7 L715.1 442.9 L716.5 443.2 L717.9 443.4 L719.3 443.7 L720.7 443.9 L722.1 444.2 L723.5 444.4 L724.9 444.6 L726.3 444.9 L727.7 445.1 L729.1 445.3 L730.5 445.5 L731.9 445.8 L733.3 446.0 L734.7 446.2 L736.2 446.4 L737.6 446.6 L739.0 446.8 L740.5 447.0 L741.9 447.2 L743.3 447.4 L744.8 447.6 L746.2 447.8 L747.7 448.0 L749.1 448.2 L750.6 448.4 L752.0 448.6 L753.5 448.8 L755.0 449.0 L756.4 449.2 L757.9 449.3 L759.4 449.5 L760.9 449.7 L762.3 449.9 L763.8 450.1 L765.3 450.2 L766.8 450.4 L768.3 450.6 L769.8 450.8 L771.3 450.9 L772.8 451.1 L774.3 451.3 L775.8 451.4 L777.3 451.6 L778.8 451.8 L780.4 451.9 L781.9 452.1 L783.4 452.3 L784.9 452.4 L786.5 452.6 L788.0 452.7 L789.5 452.9 L791.1 453.1 L792.6 453.2 L794.2 453.4 L795.7 453.5 L797.3 453.7 L798.8 453.8 L800.4 454.0 L801.9 454.2 L803.5 454.3 L805.1 454.5 L806.6 454.6 L808.2 454.8 L809.8 454.9 L811.4 455.1 L812.9 455.2 L814.5 455.4 L816.1 455.6 L817.7 455.7 L819.3 455.9 L820.9 456.0" stroke="#0000aa" stroke-width="4.4" stroke-dasharray="7.607 18.417 7.607 7.307 18.717 7.307" stroke-dashoffset="0.35"/>
<path d="M76.3 454.1 L77.9 453.9 L79.5 453.8 L81.1 453.6 L82.7 453.4 L84.3 453.3 L85.8 453.1 L87.4 452.9 L89.0 452.7 L90.6 452.5 L92.1 452.3 L93.7 452.1 L95.3 451.9 L96.8 451.7 L98.4 451.5 L99.9 451.3 L101.5 451.1 L103.0 450.9 L104.6 450.6 L106.1 450.4 L107.7 450.2 L109.2 449.9 L110.7 449.7 L112.3 449.5 L113.8 449.2 L115.3 449.0 L116.8 448.7 L118.4 448.5 L119.9 448.2 L121.4 447.9 L122.9 447.7 L124.4 447.4 L125.9 447.1 L127.4 446.9 L128.9 446.6 L130.4 446.3 L131.9 446.0 L133.4 445.7 L134.9 445.4 L136.3 445.2 L137.8 444.9 L139.3 444.6 L140.8 444.3 L142.2 444.0 L143.7 443.6 L145.2 443.3 L146.6 443.0 L148.1 442.7 L149.5 442.4 L151.0 442.1 L152.4 441.7 L153.9 441.4 L155.3 441.1 L156.7 440.7 L158.2 440.4 L159.6 440.1 L161.0 439.7 L162.5 439.4 L163.9 439.0 L165.3 438.7 L166.7 438.3 L168.1 438.0 L169.5 437.6 L170.9 437.3 L172.3 436.9 L173.7 436.6 L175.1 436.2 L176.5 435.8 L177.9 435.4 L179.3 435.1 L180.7 434.7 L182.1 434.3 L183.4 433.9 L184.8 433.5 L186.2 433.1 L187.6 432.7 L188.9 432.3 L190.3 431.9 L191.6 431.5 L193.0 431.1 L194.3 430.7 L195.7 430.2 L197.0 429.8 L198.4 429.4 L199.7 428.9 L201.1 428.5 L202.4 428.0 L203.7 427.6 L205.0 427.1 L206.4 426.6 L207.7 426.1 L209.0 425.7 L210.3 425.2 L211.6 424.7 L212.9 424.2 L214.2 423.6 L215.5 423.1 L216.8 422.6 L218.1 422.1 L219.4 421.5 L220.7 421.0 L222.0 420.4 L223.3 419.8 L224.6 419.2 L225.8 418.6 L227.1 418.0 L228.4 417.4 L229.6 416.8 L230.9 416.2 L232.1 415.6 L233.4 414.9 L234.7 414.3 L235.9 413.6 L237.2 412.9 L238.4 412.3 L239.6 411.6 L240.9 410.9 L242.1 410.2 L243.3 409.5 L244.6 408.8 L245.8 408.0 L247.0 407.3 L248.2 406.6 L249.4 405.8 L250.6 405.1 L251.8 404.4 L253.0 403.6 L254.2 402.9 L255.4 402.1 L256.6 401.4 L257.8 400.6 L259.0 399.9 L260.2 399.2 L261.4 398.5 L262.6 397.8 L263.7 397.1 L264.9 396.4 L266.1 395.7 L267.2 395.0 L268.4 394.3 L269.5 393.7 L270.7 393.0 L271.8 392.4 L273.0 391.7 L274.1 391.1 L275.3 390.5 L276.4 389.9 L277.5 389.3 L278.7 388.7 L279.8 388.1 L280.9 387.5 L282.0 386.9 L283.2 386.4 L284.3 385.8 L285.4 385.3 L286.5 384.7 L287.6 384.2 L288.7 383.7 L289.8 383.2 L290.9 382.7 L292.0 382.2 L293.1 381.7 L294.2 381.2 L295.2 380.7 L296.3 380.3 L297.4 379.8 L298.5 379.4 L299.5 378.9 L300.6 378.5 L301.6 378.1 L302.7 377.6 L303.7 377.2 L304.8 376.8 L305.8 376.4 L306.9 376.0 L307.9 375.7 L309.0 375.3 L310.0 374.9 L311.0 374.6 L312.1 374.2 L313.1 373.9 L314.1 373.6 L315.1 373.2 L316.1 372.9 L317.1 372.6 L318.1 372.3 L319.1 372.0 L320.1 371.7 L321.1 371.5 L322.1 371.2 L323.1 370.9 L324.1 370.7 L325.1 370.4 L326.1 370.2 L327.0 369.9 L328.0 369.7 L329.0 369.5 L329.9 369.3 L330.9 369.1 L331.8 368.9 L332.8 368.7 L333.8 368.5 L334.7 368.3 L335.6 368.1 L336.6 368.0 L337.5 367.8 L338.4 367.7 L339.4 367.5 L340.3 367.4 L341.2 367.2 L342.1 367.1 L343.1 367.0 L344.0 366.9 L344.9 366.8 L345.8 366.7 L346.7 366.6 L347.6 366.5 L348.5 366.4 L349.4 366.3 L350.3 366.2 L351.1 366.1 L352.0 366.1 L352.9 366.0 L353.8 365.9 L354.6 365.9 L355.5 365.8 L356.4 365.8 L357.2 365.7 L358.1 365.7 L358.9 365.7 L359.8 365.6 L360.6 365.6 L361.5 365.6 L362.3 365.6 L363.1 365.5 L364.0 365.5 L364.8 365.5 L365.6 365.5 L366.4 365.5 L367.2 365.5 L368.1 365.5 L368.9 365.5 L369.7 365.5 L370.5 365.4 L371.3 365.4 L372.1 365.4 L372.8 365.4 L373.6 365.4 L374.4 365.4 L375.2 365.4 L376.0 365.4 L376.7 365.4 L377.5 365.4 L378.3 365.4 L379.0 365.4 L379.8 365.4 L380.5 365.3 L381.3 365.3 L382.0 365.3 L382.8 365.3 L383.5 365.2 L384.3 365.2 L385.0 365.1 L385.7 365.1 L386.4 365.0 L387.2 365.0 L387.9 364.9 L388.6 364.8 L389.3 364.7 L390.0 364.6 L390.7 364.5 L391.4 364.4 L392.1 364.3 L392.8 364.2 L393.5 364.0 L394.2 363.9 L394.8 363.7 L395.5 363.6 L396.2 363.4 L396.8 363.2 L397.5 363.0 L398.2 362.7 L398.8 362.5 L399.5 362.2 L400.1 361.9 L400.8 361.6 L401.4 361.3 L402.0 361.0 L402.7 360.6 L403.3 360.3 L403.9 359.9 L404.6 359.4 L405.2 359.0 L405.8 358.5 L406.4 358.0 L407.0 357.5 L407.6 357.0 L408.2 356.4 L408.8 355.8 L409.4 355.2 L410.0 354.5 L410.6 353.9 L411.1 353.2 L411.7 352.4 L412.3 351.7 L412.8 350.9 L413.4 350.2 L414.0 349.4 L414.5 348.6 L415.1 347.7 L415.6 346.9 L416.2 346.1 L416.7 345.2 L417.2 344.3 L417.8 343.5 L418.3 342.6 L418.8 341.8 L419.3 340.9 L419.8 340.0 L420.4 339.2 L420.9 338.3 L421.4 337.5 L421.9 336.6 L422.4 335.7 L422.8 334.9 L423.3 334.0 L423.8 333.1 L424.3 332.2 L424.8 331.3 L425.2 330.4 L425.7 329.4 L426.2 328.5 L426.6 327.5 L427.1 326.5 L427.5 325.5 L428.0 324.4 L428.4 323.4 L428.8 322.3 L429.3 321.1 L429.7 320.0 L430.1 318.8 L430.5 317.6 L431.0 316.3 L431.4 315.0 L431.8 313.7 L432.2 312.3 L432.6 310.9 L433.0 309.5 L433.4 308.1 L433.7 306.6 L434.1 305.1 L434.5 303.5 L434.9 302.0 L435.2 300.4 L435.6 298.8 L436.0 297.2 L436.3 295.5 L436.7 293.9 L437.0 292.2 L437.3 290.5 L437.7 288.8 L438.0 287.0 L438.3 285.3 L438.7 283.5 L439.0 281.8 L439.3 280.0 L439.6 278.2 L439.9 276.5 L440.2 274.7 L440.5 272.9 L440.8 271.1 L441.1 269.3 L441.3 267.5 L441.6 265.8 L441.9 264.0 L442.2 262.2 L442.4 260.5 L442.7 258.8 L442.9 257.1 L443.2 255.4 L443.4 253.7 L443.7 252.0 L443.9 250.4 L444.1 248.9 L444.3 247.4 L444.5 245.9 L444.8 244.4 L445.0 243.0 L445.2 241.6 L445.4 240.2 L445.6 238.9 L445.7 237.6 L445.9 236.4 L446.1 235.2 L446.3 234.0 L446.4 232.9 L446.6 231.8 L446.7 230.7 L446.9 229.7 L447.0 228.7 L447.2 227.8 L447.3 226.9 L447.4 226.0 L447.6 225.2 L447.7 224.4 L447.8 223.6 L447.9 222.9 L448.0 222.3 L448.1 221.7 L448.2 221.1 L448.2 220.5 L448.3 220.1 L448.4 219.6 L448.4 219.2 L448.5 218.9 L448.5 218.6 L448.5 218.4 L448.6 218.2 L448.6 218.0 L448.6 218.0 L448.6 218.0 L448.6 218.2 L448.7 218.4 L448.7 218.6 L448.7 218.9 L448.8 219.2 L448.8 219.6 L448.9 220.1 L449.0 220.5 L449.0 221.1 L449.1 221.7 L449.2 222.3 L449.3 222.9 L449.4 223.6 L449.5 224.4 L449.6 225.2 L449.8 226.0 L449.9 226.9 L450.0 227.8 L450.2 228.7 L450.3 229.7 L450.5 230.7 L450.6 231.8 L450.8 232.9 L450.9 234.0 L451.1 235.2 L451.3 236.4 L451.5 237.6 L451.6 238.9 L451.8 240.2 L452.0 241.6 L452.2 243.0 L452.4 244.4 L452.7 245.9 L452.9 247.4 L453.1 248.9 L453.3 250.4 L453.5 252.0 L453.8 253.7 L454.0 255.4 L454.3 257.1 L454.5 258.8 L454.8 260.5 L455.0 262.2 L455.3 264.0 L455.6 265.8 L455.9 267.5 L456.1 269.3 L456.4 271.1 L456.7 272.9 L457.0 274.7 L457.3 276.5 L457.6 278.2 L457.9 280.0 L458.2 281.8 L458.5 283.5 L458.9 285.3 L459.2 287.0 L459.5 288.8 L459.9 290.5 L460.2 292.2 L460.5 293.9 L460.9 295.5 L461.2 297.2 L461.6 298.8 L462.0 300.4 L462.3 302.0 L462.7 303.5 L463.1 305.1 L463.5 306.6 L463.8 308.1 L464.2 309.5 L464.6 310.9 L465.0 312.3 L465.4 313.7 L465.8 315.0 L466.2 316.3 L466.7 317.6 L467.1 318.8 L467.5 320.0 L467.9 321.1 L468.4 322.3 L468.8 323.4 L469.2 324.4 L469.7 325.5 L470.1 326.5 L470.6 327.5 L471.0 328.5 L471.5 329.4 L472.0 330.4 L472.4 331.3 L472.9 332.2 L473.4 333.1 L473.9 334.0 L474.4 334.9 L474.8 335.7 L475.3 336.6 L475.8 337.5 L476.3 338.3 L476.8 339.2 L477.4 340.0 L477.9 340.9 L478.4 341.8 L478.9 342.6 L479.4 343.5 L480.0 344.3 L480.5 345.2 L481.0 346.1 L481.6 346.9 L482.1 347.7 L482.7 348.6 L483.2 349.4 L483.8 350.2 L484.4 350.9 L484.9 351.7 L485.5 352.4 L486.1 353.2 L486.6 353.9 L487.2 354.5 L487.8 355.2 L488.4 355.8 L489.0 356.4 L489.6 357.0 L490.2 357.5 L490.8 358.0 L491.4 358.5 L492.0 359.0 L492.6 359.4 L493.3 359.9 L493.9 360.3 L494.5 360.6 L495.2 361.0 L495.8 361.3 L496.4 361.6 L497.1 361.9 L497.7 362.2 L498.4 362.5 L499.0 362.7 L499.7 363.0 L500.4 363.2 L501.0 363.4 L501.7 363.6 L502.4 363.7 L503.0 363.9 L503.7 364.0 L504.4 364.2 L505.1 364.3 L505.8 364.4 L506.5 364.5 L507.2 364.6 L507.9 364.7 L508.6 364.8 L509.3 364.9 L510.0 365.0 L510.8 365.0 L511.5 365.1 L512.2 365.1 L512.9 365.2 L513.7 365.2 L514.4 365.3 L515.2 365.3 L515.9 365.3 L516.7 365.3 L517.4 365.4 L518.2 365.4 L518.9 365.4 L519.7 365.4 L520.5 365.4 L521.2 365.4 L522.0 365.4 L522.8 365.4 L523.6 365.4 L524.4 365.4 L525.1 365.4 L525.9 365.4 L526.7 365.4 L527.5 365.5 L528.3 365.5 L529.1 365.5 L530.0 365.5 L530.8 365.5 L531.6 365.5 L532.4 365.5 L533.2 365.5 L534.1 365.5 L534.9 365.6 L535.7 365.6 L536.6 365.6 L537.4 365.6 L538.3 365.7 L539.1 365.7 L540.0 365.7 L540.8 365.8 L541.7 365.8 L542.6 365.9 L543.4 365.9 L544.3 366.0 L545.2 366.1 L546.1 366.1 L546.9 366.2 L547.8 366.3 L548.7 366.4 L549.6 366.5 L550.5 366.6 L551.4 366.7 L552.3 366.8 L553.2 366.9 L554.1 367.0 L555.1 367.1 L556.0 367.2 L556.9 367.4 L557.8 367.5 L558.8 367.7 L559.7 367.8 L560.6 368.0 L561.6 368.1 L562.5 368.3 L563.4 368.5 L564.4 368.7 L565.4 368.9 L566.3 369.1 L567.3 369.3 L568.2 369.5 L569.2 369.7 L570.2 369.9 L571.1 370.2 L572.1 370.4 L573.1 370.7 L574.1 370.9 L575.1 371.2 L576.1 371.5 L577.1 371.7 L578.1 372.0 L579.1 372.3 L580.1 372.6 L581.1 372.9 L582.1 373.2 L583.1 373.6 L584.1 373.9 L585.1 374.2 L586.2 374.6 L587.2 374.9 L588.2 375.3 L589.3 375.7 L590.3 376.0 L591.4 376.4 L592.4 376.8 L593.5 377.2 L594.5 377.6 L595.6 378.1 L596.6 378.5 L597.7 378.9 L598.7 379.4 L599.8 379.8 L600.9 380.3 L602.0 380.7 L603.0 381.2 L604.1 381.7 L605.2 382.2 L606.3 382.7 L607.4 383.2 L608.5 383.7 L609.6 384.2 L610.7 384.7 L611.8 385.3 L612.9 385.8 L614.0 386.4 L615.2 386.9 L616.3 387.5 L617.4 388.1 L618.5 388.7 L619.7 389.3 L620.8 389.9 L621.9 390.5 L623.1 391.1 L624.2 391.7 L625.4 392.4 L626.5 393.0 L627.7 393.7 L628.8 394.3 L630.0 395.0 L631.1 395.7 L632.3 396.4 L633.5 397.1 L634.6 397.8 L635.8 398.5 L637.0 399.2 L638.2 399.9 L639.4 400.6 L640.6 401.4 L641.8 402.1 L643.0 402.9 L644.2 403.6 L645.4 404.4 L646.6 405.1 L647.8 405.8 L649.0 406.6 L650.2 407.3 L651.4 408.0 L652.6 408.8 L653.9 409.5 L655.1 410.2 L656.3 410.9 L657.6 411.6 L658.8 412.3 L660.0 412.9 L661.3 413.6 L662.5 414.3 L663.8 414.9 L665.1 415.6 L666.3 416.2 L667.6 416.8 L668.8 417.4 L670.1 418.0 L671.4 418.6 L672.6 419.2 L673.9 419.8 L675.2 420.4 L676.5 421.0 L677.8 421.5 L679.1 422.1 L680.4 422.6 L681.7 423.1 L683.0 423.6 L684.3 424.2 L685.6 424.7 L686.9 425.2 L688.2 425.7 L689.5 426.1 L690.8 426.6 L692.2 427.1 L693.5 427.6 L694.8 428.0 L696.1 428.5 L697.5 428.9 L698.8 429.4 L700.2 429.8 L701.5 430.2 L702.9 430.7 L704.2 431.1 L705.6 431.5 L706.9 431.9 L708.3 432.3 L709.6 432.7 L711.0 433.1 L712.4 433.5 L713.8 433.9 L715.1 434.3 L716.5 434.7 L717.9 435.1 L719.3 435.4 L720.7 435.8 L722.1 436.2 L723.5 436.6 L724.9 436.9 L726.3 437.3 L727.7 437.6 L729.1 438.0 L730.5 438.3 L731.9 438.7 L733.3 439.0 L734.7 439.4 L736.2 439.7 L737.6 440.1 L739.0 440.4 L740.5 440.7 L741.9 441.1 L743.3 441.4 L744.8 441.7 L746.2 442.1 L747.7 442.4 L749.1 442.7 L750.6 443.0 L752.0 443.3 L753.5 443.6 L755.0 444.0 L756.4 444.3 L757.9 444.6 L759.4 444.9 L760.9 445.2 L762.3 445.4 L763.8 445.7 L765.3 446.0 L766.8 446.3 L768.3 446.6 L769.8 446.9 L771.3 447.1 L772.8 447.4 L774.3 447.7 L775.8 447.9 L777.3 448.2 L778.8 448.5 L780.4 448.7 L781.9 449.0 L783.4 449.2 L784.9 449.5 L786.5 449.7 L788.0 449.9 L789.5 450.2 L791.1 450.4 L792.6 450.6 L794.2 450.9 L795.7 451.1 L797.3 451.3 L798.8 451.5 L800.4 451.7 L801.9 451.9 L803.5 452.1 L805.1 452.3 L806.6 452.5 L808.2 452.7 L809.8 452.9 L811.4 453.1 L812.9 453.3 L814.5 453.4 L816.1 453.6 L817.7 453.8 L819.3 453.9 L820.9 454.1" stroke="#996633" stroke-width="4.4" stroke-dasharray="59.762 11.130" stroke-dashoffset="70.48"/>
<path d="M76.3 443.9 L77.9 443.7 L79.5 443.4 L81.1 443.2 L82.7 442.9 L84.3 442.6 L85.8 442.3 L87.4 441.9 L89.0 441.6 L90.6 441.2 L92.1 440.9 L93.7 440.5 L95.3 440.1 L96.8 439.6 L98.4 439.2 L99.9 438.7 L101.5 438.2 L103.0 437.6 L104.6 437.1 L106.1 436.6 L107.7 436.0 L109.2 435.5 L110.7 434.9 L112.3 434.3 L113.8 433.7 L115.3 433.0 L116.8 432.4 L118.4 431.7 L119.9 431.1 L121.4 430.4 L122.9 429.7 L124.4 429.0 L125.9 428.3 L127.4 427.6 L128.9 426.9 L130.4 426.1 L131.9 425.4 L133.4 424.6 L134.9 423.9 L136.3 423.1 L137.8 422.3 L139.3 421.5 L140.8 420.7 L142.2 420.0 L143.7 419.2 L145.2 418.3 L146.6 417.5 L148.1 416.7 L149.5 415.9 L151.0 415.1 L152.4 414.3 L153.9 413.4 L155.3 412.6 L156.7 411.8 L158.2 411.0 L159.6 410.2 L161.0 409.3 L162.5 408.5 L163.9 407.7 L165.3 406.9 L166.7 406.1 L168.1 405.3 L169.5 404.5 L170.9 403.7 L172.3 402.9 L173.7 402.2 L175.1 401.4 L176.5 400.6 L177.9 399.9 L179.3 399.1 L180.7 398.4 L182.1 397.7 L183.4 397.0 L184.8 396.3 L186.2 395.6 L187.6 395.0 L188.9 394.3 L190.3 393.7 L191.6 393.1 L193.0 392.5 L194.3 391.9 L195.7 391.4 L197.0 390.9 L198.4 390.3 L199.7 389.8 L201.1 389.3 L202.4 388.9 L203.7 388.5 L205.0 388.1 L206.4 387.8 L207.7 387.5 L209.0 387.3 L210.3 387.0 L211.6 386.7 L212.9 386.5 L214.2 386.3 L215.5 386.2 L216.8 386.1 L218.1 386.0 L219.4 386.0 L220.7 386.1 L222.0 386.1 L223.3 386.2 L224.6 386.3 L225.8 386.4 L227.1 386.5 L228.4 386.6 L229.6 386.8 L230.9 386.9 L232.1 387.2 L233.4 387.4 L234.7 387.7 L235.9 388.0 L237.2 388.3 L238.4 388.6 L239.6 389.0 L240.9 389.3 L242.1 389.6 L243.3 390.0 L244.6 390.4 L245.8 390.8 L247.0 391.1 L248.2 391.5 L249.4 391.9 L250.6 392.3 L251.8 392.7 L253.0 393.1 L254.2 393.4 L255.4 393.8 L256.6 394.2 L257.8 394.6 L259.0 394.9 L260.2 395.3 L261.4 395.6 L262.6 396.0 L263.7 396.3 L264.9 396.7 L266.1 397.0 L267.2 397.3 L268.4 397.7 L269.5 398.0 L270.7 398.3 L271.8 398.6 L273.0 398.9 L274.1 399.2 L275.3 399.5 L276.4 399.8 L277.5 400.0 L278.7 400.3 L279.8 400.6 L280.9 400.8 L282.0 401.1 L283.2 401.4 L284.3 401.6 L285.4 401.9 L286.5 402.1 L287.6 402.3 L288.7 402.6 L289.8 402.8 L290.9 403.0 L292.0 403.2 L293.1 403.4 L294.2 403.6 L295.2 403.8 L296.3 404.0 L297.4 404.2 L298.5 404.4 L299.5 404.6 L300.6 404.7 L301.6 404.9 L302.7 405.0 L303.7 405.2 L304.8 405.3 L305.8 405.5 L306.9 405.6 L307.9 405.8 L309.0 405.9 L310.0 406.0 L311.0 406.1 L312.1 406.2 L313.1 406.4 L314.1 406.5 L315.1 406.5 L316.1 406.6 L317.1 406.7 L318.1 406.8 L319.1 406.9 L320.1 407.0 L321.1 407.0 L322.1 407.1 L323.1 407.1 L324.1 407.2 L325.1 407.2 L326.1 407.3 L327.0 407.3 L328.0 407.3 L329.0 407.3 L329.9 407.3 L330.9 407.4 L331.8 407.4 L332.8 407.4 L333.8 407.4 L334.7 407.4 L335.6 407.4 L336.6 407.3 L337.5 407.3 L338.4 407.3 L339.4 407.3 L340.3 407.2 L341.2 407.2 L342.1 407.1 L343.1 407.1 L344.0 407.0 L344.9 407.0 L345.8 406.9 L346.7 406.8 L347.6 406.8 L348.5 406.7 L349.4 406.6 L350.3 406.5 L351.1 406.4 L352.0 406.3 L352.9 406.2 L353.8 406.1 L354.6 406.0 L355.5 405.9 L356.4 405.8 L357.2 405.6 L358.1 405.5 L358.9 405.4 L359.8 405.3 L360.6 405.1 L361.5 405.0 L362.3 404.8 L363.1 404.7 L364.0 404.5 L364.8 404.4 L365.6 404.2 L366.4 404.1 L367.2 403.9 L368.1 403.7 L368.9 403.6 L369.7 403.4 L370.5 403.2 L371.3 403.0 L372.1 402.8 L372.8 402.6 L373.6 402.4 L374.4 402.2 L375.2 402.0 L376.0 401.8 L376.7 401.6 L377.5 401.4 L378.3 401.2 L379.0 400.9 L379.8 400.7 L380.5 400.5 L381.3 400.2 L382.0 400.0 L382.8 399.7 L383.5 399.4 L384.3 399.1 L385.0 398.9 L385.7 398.6 L386.4 398.3 L387.2 398.0 L387.9 397.7 L388.6 397.4 L389.3 397.0 L390.0 396.7 L390.7 396.3 L391.4 396.0 L392.1 395.6 L392.8 395.3 L393.5 394.9 L394.2 394.5 L394.8 394.1 L395.5 393.7 L396.2 393.3 L396.8 392.9 L397.5 392.5 L398.2 392.0 L398.8 391.6 L399.5 391.1 L400.1 390.7 L400.8 390.2 L401.4 389.7 L402.0 389.2 L402.7 388.7 L403.3 388.2 L403.9 387.7 L404.6 387.1 L405.2 386.6 L405.8 386.0 L406.4 385.5 L407.0 384.9 L407.6 384.3 L408.2 383.7 L408.8 383.1 L409.4 382.5 L410.0 381.9 L410.6 381.3 L411.1 380.6 L411.7 380.0 L412.3 379.3 L412.8 378.6 L413.4 377.9 L414.0 377.2 L414.5 376.5 L415.1 375.8 L415.6 375.1 L416.2 374.3 L416.7 373.5 L417.2 372.8 L417.8 372.0 L418.3 371.2 L418.8 370.4 L419.3 369.6 L419.8 368.7 L420.4 367.9 L420.9 367.0 L421.4 366.2 L421.9 365.3 L422.4 364.4 L422.8 363.5 L423.3 362.6 L423.8 361.7 L424.3 360.7 L424.8 359.8 L425.2 358.8 L425.7 357.8 L426.2 356.8 L426.6 355.8 L427.1 354.8 L427.5 353.7 L428.0 352.7 L428.4 351.6 L428.8 350.6 L429.3 349.5 L429.7 348.4 L430.1 347.2 L430.5 346.1 L431.0 344.9 L431.4 343.7 L431.8 342.5 L432.2 341.3 L432.6 340.0 L433.0 338.7 L433.4 337.3 L433.7 335.9 L434.1 334.5 L434.5 333.0 L434.9 331.5 L435.2 330.0 L435.6 328.4 L436.0 326.8 L436.3 325.1 L436.7 323.3 L437.0 321.5 L437.3 319.7 L437.7 317.8 L438.0 315.8 L438.3 313.8 L438.7 311.8 L439.0 309.7 L439.3 307.5 L439.6 305.4 L439.9 303.2 L440.2 300.9 L440.5 298.6 L440.8 296.3 L441.1 294.0 L441.3 291.6 L441.6 289.2 L441.9 286.7 L442.2 284.1 L442.4 281.6 L442.7 279.0 L442.9 276.3 L443.2 273.6 L443.4 270.9 L443.7 268.6 L443.9 266.6 L444.1 264.7 L444.3 263.0 L444.5 261.3 L444.8 259.8 L445.0 258.3 L445.2 256.9 L445.4 255.5 L445.6 254.2 L445.7 252.9 L445.9 251.5 L446.1 250.2 L446.3 249.0 L446.4 247.7 L446.6 246.5 L446.7 245.3 L446.9 244.2 L447.0 243.1 L447.2 242.1 L447.3 241.1 L447.4 240.2 L447.6 239.3 L447.7 238.4 L447.8 237.6 L447.9 236.8 L448.0 236.1 L448.1 235.4 L448.2 234.8 L448.2 234.2 L448.3 233.7 L448.4 233.2 L448.4 232.7 L448.5 232.4 L448.5 232.0 L448.5 231.8 L448.6 231.6 L448.6 231.5 L448.6 231.4 L448.6 231.5 L448.6 231.6 L448.7 231.8 L448.7 232.0 L448.7 232.4 L448.8 232.7 L448.8 233.2 L448.9 233.7 L449.0 234.2 L449.0 234.8 L449.1 235.4 L449.2 236.1 L449.3 236.8 L449.4 237.6 L449.5 238.4 L449.6 239.3 L449.8 240.2 L449.9 241.1 L450.0 242.1 L450.2 243.1 L450.3 244.2 L450.5 245.3 L450.6 246.5 L450.8 247.7 L450.9 249.0 L451.1 250.2 L451.3 251.5 L451.5 252.9 L451.6 254.2 L451.8 255.5 L452.0 256.9 L452.2 258.3 L452.4 259.8 L452.7 261.3 L452.9 263.0 L453.1 264.7 L453.3 266.6 L453.5 268.6 L453.8 270.9 L454.0 273.6 L454.3 276.3 L454.5 279.0 L454.8 281.6 L455.0 284.1 L455.3 286.7 L455.6 289.2 L455.9 291.6 L456.1 294.0 L456.4 296.3 L456.7 298.6 L457.0 300.9 L457.3 303.2 L457.6 305.4 L457.9 307.5 L458.2 309.7 L458.5 311.8 L458.9 313.8 L459.2 315.8 L459.5 317.8 L459.9 319.7 L460.2 321.5 L460.5 323.3 L460.9 325.1 L461.2 326.8 L461.6 328.4 L462.0 330.0 L462.3 331.5 L462.7 333.0 L463.1 334.5 L463.5 335.9 L463.8 337.3 L464.2 338.7 L464.6 340.0 L465.0 341.3 L465.4 342.5 L465.8 343.7 L466.2 344.9 L466.7 346.1 L467.1 347.2 L467.5 348.4 L467.9 349.5 L468.4 350.6 L468.8 351.6 L469.2 352.7 L469.7 353.7 L470.1 354.8 L470.6 355.8 L471.0 356.8 L471.5 357.8 L472.0 358.8 L472.4 359.8 L472.9 360.7 L473.4 361.7 L473.9 362.6 L474.4 363.5 L474.8 364.4 L475.3 365.3 L475.8 366.2 L476.3 367.0 L476.8 367.9 L477.4 368.7 L477.9 369.6 L478.4 370.4 L478.9 371.2 L479.4 372.0 L480.0 372.8 L480.5 373.5 L481.0 374.3 L481.6 375.1 L482.1 375.8 L482.7 376.5 L483.2 377.2 L483.8 377.9 L484.4 378.6 L484.9 379.3 L485.5 380.0 L486.1 380.6 L486.6 381.3 L487.2 381.9 L487.8 382.5 L488.4 383.1 L489.0 383.7 L489.6 384.3 L490.2 384.9 L490.8 385.5 L491.4 386.0 L492.0 386.6 L492.6 387.1 L493.3 387.7 L493.9 388.2 L494.5 388.7 L495.2 389.2 L495.8 389.7 L496.4 390.2 L497.1 390.7 L497.7 391.1 L498.4 391.6 L499.0 392.0 L499.7 392.5 L500.4 392.9 L501.0 393.3 L501.7 393.7 L502.4 394.1 L503.0 394.5 L503.7 394.9 L504.4 395.3 L505.1 395.6 L505.8 396.0 L506.5 396.3 L507.2 396.7 L507.9 397.0 L508.6 397.4 L509.3 397.7 L510.0 398.0 L510.8 398.3 L511.5 398.6 L512.2 398.9 L512.9 399.1 L513.7 399.4 L514.4 399.7 L515.2 400.0 L515.9 400.2 L516.7 400.5 L517.4 400.7 L518.2 400.9 L518.9 401.2 L519.7 401.4 L520.5 401.6 L521.2 401.8 L522.0 402.0 L522.8 402.2 L523.6 402.4 L524.4 402.6 L525.1 402.8 L525.9 403.0 L526.7 403.2 L527.5 403.4 L528.3 403.6 L529.1 403.7 L530.0 403.9 L530.8 404.1 L531.6 404.2 L532.4 404.4 L533.2 404.5 L534.1 404.7 L534.9 404.8 L535.7 405.0 L536.6 405.1 L537.4 405.3 L538.3 405.4 L539.1 405.5 L540.0 405.6 L540.8 405.8 L541.7 405.9 L542.6 406.0 L543.4 406.1 L544.3 406.2 L545.2 406.3 L546.1 406.4 L546.9 406.5 L547.8 406.6 L548.7 406.7 L549.6 406.8 L550.5 406.8 L551.4 406.9 L552.3 407.0 L553.2 407.0 L554.1 407.1 L555.1 407.1 L556.0 407.2 L556.9 407.2 L557.8 407.3 L558.8 407.3 L559.7 407.3 L560.6 407.3 L561.6 407.4 L562.5 407.4 L563.4 407.4 L564.4 407.4 L565.4 407.4 L566.3 407.4 L567.3 407.3 L568.2 407.3 L569.2 407.3 L570.2 407.3 L571.1 407.3 L572.1 407.2 L573.1 407.2 L574.1 407.1 L575.1 407.1 L576.1 407.0 L577.1 407.0 L578.1 406.9 L579.1 406.8 L580.1 406.7 L581.1 406.6 L582.1 406.5 L583.1 406.5 L584.1 406.4 L585.1 406.2 L586.2 406.1 L587.2 406.0 L588.2 405.9 L589.3 405.8 L590.3 405.6 L591.4 405.5 L592.4 405.3 L593.5 405.2 L594.5 405.0 L595.6 404.9 L596.6 404.7 L597.7 404.6 L598.7 404.4 L599.8 404.2 L600.9 404.0 L602.0 403.8 L603.0 403.6 L604.1 403.4 L605.2 403.2 L606.3 403.0 L607.4 402.8 L608.5 402.6 L609.6 402.3 L610.7 402.1 L611.8 401.9 L612.9 401.6 L614.0 401.4 L615.2 401.1 L616.3 400.8 L617.4 400.6 L618.5 400.3 L619.7 400.0 L620.8 399.8 L621.9 399.5 L623.1 399.2 L624.2 398.9 L625.4 398.6 L626.5 398.3 L627.7 398.0 L628.8 397.7 L630.0 397.3 L631.1 397.0 L632.3 396.7 L633.5 396.3 L634.6 396.0 L635.8 395.6 L637.0 395.3 L638.2 394.9 L639.4 394.6 L640.6 394.2 L641.8 393.8 L643.0 393.4 L644.2 393.1 L645.4 392.7 L646.6 392.3 L647.8 391.9 L649.0 391.5 L650.2 391.1 L651.4 390.8 L652.6 390.4 L653.9 390.0 L655.1 389.6 L656.3 389.3 L657.6 389.0 L658.8 388.6 L660.0 388.3 L661.3 388.0 L662.5 387.7 L663.8 387.4 L665.1 387.2 L666.3 386.9 L667.6 386.8 L668.8 386.6 L670.1 386.5 L671.4 386.4 L672.6 386.3 L673.9 386.2 L675.2 386.1 L676.5 386.1 L677.8 386.0 L679.1 386.0 L680.4 386.1 L681.7 386.2 L683.0 386.3 L684.3 386.5 L685.6 386.7 L686.9 387.0 L688.2 387.3 L689.5 387.5 L690.8 387.8 L692.2 388.1 L693.5 388.5 L694.8 388.9 L696.1 389.3 L697.5 389.8 L698.8 390.3 L700.2 390.9 L701.5 391.4 L702.9 391.9 L704.2 392.5 L705.6 393.1 L706.9 393.7 L708.3 394.3 L709.6 395.0 L711.0 395.6 L712.4 396.3 L713.8 397.0 L715.1 397.7 L716.5 398.4 L717.9 399.1 L719.3 399.9 L720.7 400.6 L722.1 401.4 L723.5 402.2 L724.9 402.9 L726.3 403.7 L727.7 404.5 L729.1 405.3 L730.5 406.1 L731.9 406.9 L733.3 407.7 L734.7 408.5 L736.2 409.3 L737.6 410.2 L739.0 411.0 L740.5 411.8 L741.9 412.6 L743.3 413.4 L744.8 414.3 L746.2 415.1 L747.7 415.9 L749.1 416.7 L750.6 417.5 L752.0 418.3 L753.5 419.2 L755.0 420.0 L756.4 420.7 L757.9 421.5 L759.4 422.3 L760.9 423.1 L762.3 423.9 L763.8 424.6 L765.3 425.4 L766.8 426.1 L768.3 426.9 L769.8 427.6 L771.3 428.3 L772.8 429.0 L774.3 429.7 L775.8 430.4 L777.3 431.1 L778.8 431.7 L780.4 432.4 L781.9 433.0 L783.4 433.7 L784.9 434.3 L786.5 434.9 L788.0 435.5 L789.5 436.0 L791.1 436.6 L792.6 437.1 L794.2 437.6 L795.7 438.2 L797.3 438.7 L798.8 439.2 L800.4 439.6 L801.9 440.1 L803.5 440.5 L805.1 440.9 L806.6 441.2 L808.2 441.6 L809.8 441.9 L811.4 442.3 L812.9 442.6 L814.5 442.9 L816.1 443.2 L817.7 443.4 L819.3 443.7 L820.9 443.9" stroke="#00aa00" stroke-width="7.3" stroke-dasharray="15.611 14.352" stroke-dashoffset="0.59"/>
</g>
<line x1="448.6" y1="13.5" x2="448.6" y2="472.6" stroke="#222" stroke-width="1"/>
<g stroke="#000" fill="none">
<path d="M77.3 472.6V450.1M77.3 13.5V36.0" stroke-width="4.6"/>
<path d="M100.5 472.6V461.6M100.5 13.5V24.5" stroke-width="3"/>
<path d="M123.7 472.6V461.6M123.7 13.5V24.5" stroke-width="3"/>
<path d="M146.9 472.6V461.6M146.9 13.5V24.5" stroke-width="3"/>
<path d="M170.1 472.6V450.1M170.1 13.5V36.0" stroke-width="4.6"/>
<path d="M193.3 472.6V461.6M193.3 13.5V24.5" stroke-width="3"/>
<path d="M216.5 472.6V461.6M216.5 13.5V24.5" stroke-width="3"/>
<path d="M239.8 472.6V461.6M239.8 13.5V24.5" stroke-width="3"/>
<path d="M263.0 472.6V450.1M263.0 13.5V36.0" stroke-width="4.6"/>
<path d="M286.2 472.6V461.6M286.2 13.5V24.5" stroke-width="3"/>
<path d="M309.4 472.6V461.6M309.4 13.5V24.5" stroke-width="3"/>
<path d="M332.6 472.6V461.6M332.6 13.5V24.5" stroke-width="3"/>
<path d="M355.8 472.6V450.1M355.8 13.5V36.0" stroke-width="4.6"/>
<path d="M379.1 472.6V461.6M379.1 13.5V24.5" stroke-width="3"/>
<path d="M402.3 472.6V461.6M402.3 13.5V24.5" stroke-width="3"/>
<path d="M425.5 472.6V461.6M425.5 13.5V24.5" stroke-width="3"/>
<path d="M448.7 472.6V450.1M448.7 13.5V36.0" stroke-width="4.6"/>
<path d="M471.9 472.6V461.6M471.9 13.5V24.5" stroke-width="3"/>
<path d="M495.1 472.6V461.6M495.1 13.5V24.5" stroke-width="3"/>
<path d="M518.3 472.6V461.6M518.3 13.5V24.5" stroke-width="3"/>
<path d="M541.6 472.6V450.1M541.6 13.5V36.0" stroke-width="4.6"/>
<path d="M564.8 472.6V461.6M564.8 13.5V24.5" stroke-width="3"/>
<path d="M588.0 472.6V461.6M588.0 13.5V24.5" stroke-width="3"/>
<path d="M611.2 472.6V461.6M611.2 13.5V24.5" stroke-width="3"/>
<path d="M634.4 472.6V450.1M634.4 13.5V36.0" stroke-width="4.6"/>
<path d="M657.6 472.6V461.6M657.6 13.5V24.5" stroke-width="3"/>
<path d="M680.9 472.6V461.6M680.9 13.5V24.5" stroke-width="3"/>
<path d="M704.1 472.6V461.6M704.1 13.5V24.5" stroke-width="3"/>
<path d="M727.3 472.6V450.1M727.3 13.5V36.0" stroke-width="4.6"/>
<path d="M750.5 472.6V461.6M750.5 13.5V24.5" stroke-width="3"/>
<path d="M773.7 472.6V461.6M773.7 13.5V24.5" stroke-width="3"/>
<path d="M796.9 472.6V461.6M796.9 13.5V24.5" stroke-width="3"/>
<path d="M820.1 472.6V450.1M820.1 13.5V36.0" stroke-width="4.6"/>
<path d="M77.4 472.6H99.9M820.3 472.6H797.8" stroke-width="4.6"/>
<path d="M77.4 443.9H88.4M820.3 443.9H809.3" stroke-width="3"/>
<path d="M77.4 415.2H88.4M820.3 415.2H809.3" stroke-width="3"/>
<path d="M77.4 386.5H88.4M820.3 386.5H809.3" stroke-width="3"/>
<path d="M77.4 357.8H99.9M820.3 357.8H797.8" stroke-width="4.6"/>
<path d="M77.4 329.1H88.4M820.3 329.1H809.3" stroke-width="3"/>
<path d="M77.4 300.4H88.4M820.3 300.4H809.3" stroke-width="3"/>
<path d="M77.4 271.7H88.4M820.3 271.7H809.3" stroke-width="3"/>
<path d="M77.4 243.0H99.9M820.3 243.0H797.8" stroke-width="4.6"/>
<path d="M77.4 214.3H88.4M820.3 214.3H809.3" stroke-width="3"/>
<path d="M77.4 185.6H88.4M820.3 185.6H809.3" stroke-width="3"/>
<path d="M77.4 156.9H88.4M820.3 156.9H809.3" stroke-width="3"/>
<path d="M77.4 128.2H99.9M820.3 128.2H797.8" stroke-width="4.6"/>
<path d="M77.4 99.5H88.4M820.3 99.5H809.3" stroke-width="3"/>
<path d="M77.4 70.8H88.4M820.3 70.8H809.3" stroke-width="3"/>
<path d="M77.4 42.1H88.4M820.3 42.1H809.3" stroke-width="3"/>
<path d="M77.4 13.4H99.9M820.3 13.4H797.8" stroke-width="4.6"/>
<rect x="77.4" y="13.5" width="742.9" height="459.1" stroke-width="5"/>
</g>

<g fill="none">
<path d="M541.4 117H634.5" stroke="#000" stroke-width="4.4"/>
<path d="M541.6 162.9H626" stroke="#ff8000" stroke-width="4.4" stroke-dasharray="5.2 10.4"/>
<path d="M541.5 208.7H643" stroke="#0000aa" stroke-width="4.4" stroke-dasharray="7.6 18.4 7.6 7.3 18.7 7.3"/>
<path d="M541.5 254.7H672" stroke="#996633" stroke-width="4.4" stroke-dasharray="59.6 11.1"/>
<path d="M541.2 300.3H676" stroke="#00aa00" stroke-width="7.3" stroke-dasharray="15.5 14.25"/>
</g>

<g>
<text x="77.4" y="510.6" font-size="36.3" text-anchor="middle"><tspan dy="2.75">−</tspan><tspan dy="-2.75">8</tspan></text>
<text x="170.2" y="510.6" font-size="36.3" text-anchor="middle"><tspan dy="2.75">−</tspan><tspan dy="-2.75">6</tspan></text>
<text x="263.1" y="510.6" font-size="36.3" text-anchor="middle"><tspan dy="2.75">−</tspan><tspan dy="-2.75">4</tspan></text>
<text x="355.9" y="510.6" font-size="36.3" text-anchor="middle"><tspan dy="2.75">−</tspan><tspan dy="-2.75">2</tspan></text>
<text x="449.0" y="510.6" font-size="36.3" text-anchor="middle">0</text>
<text x="541.9" y="510.6" font-size="36.3" text-anchor="middle">2</text>
<text x="634.7" y="510.6" font-size="36.3" text-anchor="middle">4</text>
<text x="727.6" y="510.6" font-size="36.3" text-anchor="middle">6</text>
<text x="820.4" y="510.6" font-size="36.3" text-anchor="middle">8</text>
<text x="73.5" y="485.9" font-size="36.3" text-anchor="end">0</text>
<path d="M66.59 371.00L63.49 371.00L63.49 351.29Q60.92 353.58 56.84 355.05L56.84 352.06Q62.68 349.35 64.58 345.80L66.59 345.80Z" fill="#000" stroke="#000" stroke-width="0.35" stroke-linejoin="round"/>
<text x="73.5" y="256.3" font-size="36.3" text-anchor="end">2</text>
<text x="73.5" y="141.5" font-size="36.3" text-anchor="end">3</text>
<text x="73.5" y="26.7" font-size="36.3" text-anchor="end">4</text>
</g>
<g fill="#00aa00" stroke="none"><rect x="148.65" y="490" width="4.7" height="51.7"/><path d="M151.0 472.8 L158.3 499 L151.0 494.3 L143.7 499 Z"/></g><g fill="#000" stroke="none"><rect x="300.55" y="490" width="4.7" height="51.7"/><path d="M302.9 472.8 L310.2 499 L302.9 494.3 L295.6 499 Z"/></g><g fill="#000" stroke="none"><rect x="592.25" y="490" width="4.7" height="51.7"/><path d="M594.6 472.8 L601.9 499 L594.6 494.3 L587.3 499 Z"/></g><g fill="#00aa00" stroke="none"><rect x="744.45" y="490" width="4.7" height="51.7"/><path d="M746.8 472.8 L754.1 499 L746.8 494.3 L739.5 499 Z"/></g>
<g>
<text x="101.0" y="83.0" font-size="35.8">(a)</text>
<text transform="translate(166.60 87.00) scale(1 1.04)" font-size="42.1">U/(</text>
<text x="225.0" y="86.3" font-size="42.1" class="i">π</text>
<text transform="translate(253.00 87.00) scale(1 1.04)" font-size="42.1">Δ)<tspan dy="1.62">=</tspan><tspan dy="-1.62">2.0</tspan></text>
<text x="173.5" y="142.5" font-size="42.1" class="i">ε</text>
<text x="190.5" y="150.5" font-size="29.6" class="i">d</text>
<text transform="translate(207.90 143.30) scale(1 1.04)" font-size="42.1"><tspan dy="2.59">=−</tspan></text>
<text transform="translate(256.30 143.30) scale(1 1.04)" font-size="42.1">(3/2)</text>
<text transform="translate(343.40 143.30) scale(1 1.04)" font-size="42.1">U</text>
<text transform="translate(117.60 258.70) scale(1 1.04)" font-size="42.1" class="i">T</text><text transform="translate(142.70 269.70) scale(1 1.04)" font-size="29.6" class="i">K</text><text transform="translate(144.50 239.00) scale(1 1.04)" font-size="30">SU</text><text transform="translate(191.10 239.00) scale(1 1.04)" font-size="29.6">(4)</text>
<text transform="translate(228.50 258.90) scale(1 1.04)" font-size="42.1"><tspan dy="2.59">=</tspan><tspan dy="-2.59">0.4<tspan style="fill:none;stroke:none">1</tspan>Δ</tspan></text>
<path d="M327.86 258.60L324.15 258.60L324.15 235.02Q321.08 237.76 316.19 239.53L316.19 235.95Q323.18 232.71 325.46 228.46L327.86 228.46Z" fill="#000" stroke="#000" stroke-width="0.35" stroke-linejoin="round"/>
<text transform="translate(117.60 327.40) scale(1 1.04)" font-size="42.1" class="i">T</text><text transform="translate(142.70 338.40) scale(1 1.04)" font-size="29.6" class="i">K</text><text transform="translate(144.50 307.70) scale(1 1.04)" font-size="30">SU</text><text transform="translate(191.10 307.70) scale(1 1.04)" font-size="29.6">(2)</text>
<text transform="translate(228.50 327.60) scale(1 1.04)" font-size="42.1"><tspan dy="2.59">=</tspan><tspan dy="-2.59">0.<tspan style="fill:none;stroke:none">1</tspan>9Δ</tspan></text>
<path d="M304.45 327.30L300.74 327.30L300.74 303.72Q297.67 306.46 292.79 308.23L292.79 304.65Q299.78 301.41 302.05 297.16L304.45 297.16Z" fill="#000" stroke="#000" stroke-width="0.35" stroke-linejoin="round"/>
<text x="630.6" y="86.6" font-size="42.1">b/</text>
<text transform="translate(666.00 86.80) scale(1 1.04)" font-size="42.1" class="i">T</text><text transform="translate(691.10 97.80) scale(1 1.04)" font-size="29.6" class="i">K</text><text transform="translate(692.90 67.10) scale(1 1.04)" font-size="30">SU</text><text transform="translate(739.50 67.10) scale(1 1.04)" font-size="29.6">(4)</text>
<text x="657.5" y="129.0" font-size="36.3" text-anchor="middle">0</text>
<text x="657.9" y="175.0" font-size="36.3" style="fill:#ff8000;stroke:#ff8000" text-anchor="middle">0.5</text>
<path d="M679.29 221.00L676.19 221.00L676.19 201.29Q673.62 203.58 669.54 205.05L669.54 202.06Q675.38 199.35 677.28 195.80L679.29 195.80Z" fill="#0000aa" stroke="#0000aa" stroke-width="0.35" stroke-linejoin="round"/>
<text x="703.4" y="266.8" font-size="36.3" style="fill:#996633;stroke:#996633" text-anchor="middle">2</text>
<text x="703.4" y="313.0" font-size="36.3" style="fill:#00aa00;stroke:#00aa00" text-anchor="middle">4</text>
<text transform="translate(132.60 578.20) scale(1 1.08)" font-size="39.3" style="fill:#00aa00;stroke:#00aa00" text-anchor="middle"><tspan dy="2.61">−</tspan><tspan dy="-2.61">U/2</tspan><tspan dy="2.61">−</tspan><tspan dy="-2.61">2b</tspan></text>
<text transform="translate(302.80 578.20) scale(1 1.08)" font-size="39.3" text-anchor="middle"><tspan dy="2.61">−</tspan><tspan dy="-2.61">U/2</tspan></text>
<text transform="translate(595.60 578.20) scale(1 1.08)" font-size="39.3" text-anchor="middle">U/2</text>
<text transform="translate(764.00 578.20) scale(1 1.08)" font-size="39.3" style="fill:#00aa00;stroke:#00aa00" text-anchor="middle">U/2<tspan dy="2.61">+</tspan><tspan dy="-2.61">2b</tspan></text>
<text x="408.4" y="584.9" font-size="46.5" class="i">ω</text>
<text x="444.4" y="585.2" font-size="48">/</text>
<text transform="translate(456.60 584.60) scale(1.045 1)" font-size="48.5">Δ</text>
<g transform="translate(35.2,309) rotate(-90)"><text transform="scale(1.14,1)" x="-2.0" y="0" font-size="46" class="i">π</text><text x="29.9" y="0.0" font-size="48.5">Δ</text><text transform="translate(64.30 0.00) scale(0.96 1)" font-size="48">A</text><text x="95.8" y="9.1" font-size="33.7">tot</text></g>
</g>
</svg>
</body></html>
